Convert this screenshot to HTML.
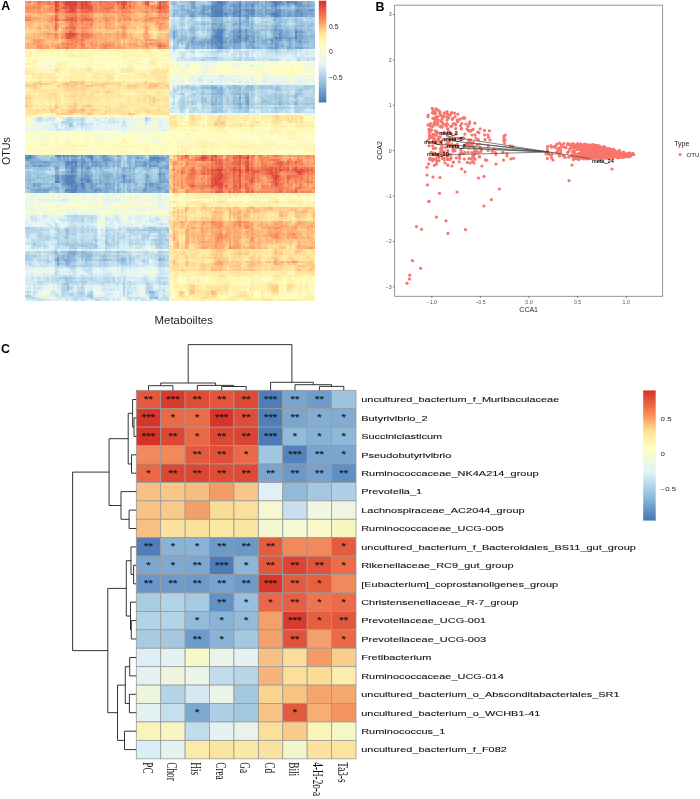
<!DOCTYPE html>
<html><head><meta charset="utf-8"><style>
html,body{margin:0;padding:0;background:#fff;width:700px;height:799px;overflow:hidden}
#wrap{position:relative;width:700px;height:799px}
#hm{position:absolute;filter:blur(0.55px);left:25px;top:1px;width:290px;height:300px;
background:linear-gradient(to bottom,#f07957 0px 12px,#fc9d6a 12px 21px,#fdaf77 21px 32px,#fc9867 32px 48px,#fff6b5 48px 69px,#feeeaa 69px 81px,#fed38f 81px 89px,#fee39b 89px 114px,#ffffc4 114px 117px,#e3f4f7 117px 130px,#ffffc4 130px 155px,#8ab5d6 155px 193px,#eff9e1 193px 214px,#d8eef5 214px 227px,#bedcec 227px 249px,#e5f5f3 249px 251px,#b1d4e6 251px 267px,#d8eef5 267px 300px) 0 0/144px 100% no-repeat,linear-gradient(to bottom,#7ea9cf 0px 17px,#a4cbe2 17px 21px,#99c3de 21px 34px,#91bbd9 34px 48px,#d8eef5 48px 61px,#fbfecb 61px 74px,#ebf7ea 74px 85px,#b5d7e8 85px 112px,#eef9e3 112px 115px,#feeda8 115px 127px,#fff9bd 127px 154px,#f37e59 154px 193px,#fff5b4 193px 206px,#fed38f 206px 221px,#fdb47a 221px 249px,#fedc95 249px 271px,#feeeaa 271px 300px) 144px 0/146px 100% no-repeat}
svg{position:absolute;left:0;top:0}
text{font-family:"Liberation Sans",Arial,sans-serif;fill:#111}
.lbl{font-size:12.4px;font-weight:bold;fill:#000}
.cba{font-size:6.8px;fill:#222}
.ax1{font-size:11.4px;fill:#1a1a1a}
.ax1b{font-size:10.7px;fill:#1a1a1a}
.ax2{font-size:7px;fill:#222}
.tk{font-size:5.3px;fill:#555}
.leg{font-size:6.2px;fill:#222}
.ml{font-size:5.6px;fill:#000;stroke:#000;stroke-width:0.12px}
.star text,.star{font-size:8.2px;fill:#151515;stroke:#151515;stroke-width:0.15px}
.rl{font-size:8px;fill:#111;stroke:#111;stroke-width:0.1px}
.cl{font-family:"Liberation Serif","Times New Roman",serif;font-size:9.2px;fill:#111}
.cbc{font-size:6px;fill:#222}
</style></head><body><div id="wrap">
<canvas id="hm" width="290" height="300"></canvas>
<svg width="700" height="799" viewBox="0 0 700 799">
<text x="1.2" y="10.4" class="lbl">A</text>
<defs><linearGradient id="cb" x1="0" y1="1" x2="0" y2="0"><stop offset="0" stop-color="#4575B4"/><stop offset="0.19" stop-color="#91BFDB"/><stop offset="0.37" stop-color="#E0F3F8"/><stop offset="0.56" stop-color="#FFFFBF"/><stop offset="0.69" stop-color="#FEE090"/><stop offset="0.81" stop-color="#FC8D59"/><stop offset="1" stop-color="#D73027"/></linearGradient></defs>
<rect x="318.8" y="0.7" width="7.5" height="101.8" fill="url(#cb)"/>
<text x="329" y="28.5" class="cba">0.5</text>
<text x="329" y="54.0" class="cba">0</text>
<text x="329" y="80.1" class="cba">−0.5</text>
<text transform="translate(10.2,165) rotate(-90)" class="ax1b">OTUs</text>
<text x="154.6" y="324.2" class="ax1">Metaboiltes</text>
<text x="375.4" y="11.0" class="lbl">B</text>
<rect x="394.6" y="5.2" width="268.0" height="291.1" fill="none" stroke="#8a8a8a" stroke-width="0.9"/>
<line x1="392.8" y1="14.5" x2="394.6" y2="14.5" stroke="#333" stroke-width="0.6"/>
<text x="391.6" y="16.4" class="tk" text-anchor="end">3</text>
<line x1="392.8" y1="59.9" x2="394.6" y2="59.9" stroke="#333" stroke-width="0.6"/>
<text x="391.6" y="61.8" class="tk" text-anchor="end">2</text>
<line x1="392.8" y1="105.2" x2="394.6" y2="105.2" stroke="#333" stroke-width="0.6"/>
<text x="391.6" y="107.2" class="tk" text-anchor="end">1</text>
<line x1="392.8" y1="150.7" x2="394.6" y2="150.7" stroke="#333" stroke-width="0.6"/>
<text x="391.6" y="152.6" class="tk" text-anchor="end">0</text>
<line x1="392.8" y1="196.1" x2="394.6" y2="196.1" stroke="#333" stroke-width="0.6"/>
<text x="391.6" y="198.0" class="tk" text-anchor="end">−1</text>
<line x1="392.8" y1="241.4" x2="394.6" y2="241.4" stroke="#333" stroke-width="0.6"/>
<text x="391.6" y="243.3" class="tk" text-anchor="end">−2</text>
<line x1="392.8" y1="286.9" x2="394.6" y2="286.9" stroke="#333" stroke-width="0.6"/>
<text x="391.6" y="288.8" class="tk" text-anchor="end">−3</text>
<line x1="431.8" y1="296.3" x2="431.8" y2="298.1" stroke="#333" stroke-width="0.6"/>
<text x="431.8" y="303.5" class="tk" text-anchor="middle">−1.0</text>
<line x1="480.4" y1="296.3" x2="480.4" y2="298.1" stroke="#333" stroke-width="0.6"/>
<text x="480.4" y="303.5" class="tk" text-anchor="middle">−0.5</text>
<line x1="529.0" y1="296.3" x2="529.0" y2="298.1" stroke="#333" stroke-width="0.6"/>
<text x="529.0" y="303.5" class="tk" text-anchor="middle">0.0</text>
<line x1="577.6" y1="296.3" x2="577.6" y2="298.1" stroke="#333" stroke-width="0.6"/>
<text x="577.6" y="303.5" class="tk" text-anchor="middle">0.5</text>
<line x1="626.2" y1="296.3" x2="626.2" y2="298.1" stroke="#333" stroke-width="0.6"/>
<text x="626.2" y="303.5" class="tk" text-anchor="middle">1.0</text>
<text x="528.7" y="312.2" class="ax2" text-anchor="middle">CCA1</text>
<text transform="translate(382,150.5) rotate(-90)" class="ax2" text-anchor="middle">CCA2</text>
<text x="674.2" y="146.4" class="leg" style="font-size:7px">Type</text>
<circle cx="680" cy="154.4" r="1.5" fill="#F8766D"/>
<text x="686.5" y="156.6" class="leg">OTU</text>
<g fill="#F8766D"><circle cx="428.9" cy="201.5" r="1.6"/><circle cx="436.4" cy="217.1" r="1.6"/><circle cx="446.0" cy="220.8" r="1.6"/><circle cx="416.5" cy="226.6" r="1.6"/><circle cx="421.5" cy="229.3" r="1.6"/><circle cx="447.9" cy="233.4" r="1.6"/><circle cx="465.5" cy="229.7" r="1.6"/><circle cx="412.4" cy="260.7" r="1.6"/><circle cx="420.6" cy="268.3" r="1.6"/><circle cx="409.8" cy="275.2" r="1.6"/><circle cx="409.4" cy="278.9" r="1.6"/><circle cx="407.0" cy="283.2" r="1.6"/><circle cx="427.0" cy="167.3" r="1.6"/><circle cx="427.0" cy="175.0" r="1.6"/><circle cx="433.0" cy="177.0" r="1.6"/><circle cx="440.0" cy="177.5" r="1.6"/><circle cx="427.4" cy="184.9" r="1.6"/><circle cx="439.5" cy="193.3" r="1.6"/><circle cx="457.0" cy="192.0" r="1.6"/><circle cx="429.0" cy="201.3" r="1.6"/><circle cx="478.4" cy="178.0" r="1.6"/><circle cx="484.0" cy="176.4" r="1.6"/><circle cx="499.4" cy="189.0" r="1.6"/><circle cx="491.4" cy="199.7" r="1.6"/><circle cx="483.9" cy="206.0" r="1.6"/><circle cx="461.7" cy="168.9" r="1.6"/><circle cx="465.0" cy="171.8" r="1.6"/><circle cx="474.0" cy="163.0" r="1.6"/><circle cx="482.0" cy="166.0" r="1.6"/><circle cx="496.0" cy="164.0" r="1.6"/><circle cx="507.0" cy="156.0" r="1.6"/><circle cx="504.0" cy="136.0" r="1.6"/><circle cx="505.0" cy="140.0" r="1.6"/><circle cx="546.0" cy="154.0" r="1.6"/><circle cx="553.0" cy="160.0" r="1.6"/><circle cx="556.0" cy="153.0" r="1.6"/><circle cx="572.0" cy="165.0" r="1.6"/><circle cx="612.0" cy="169.0" r="1.6"/><circle cx="600.0" cy="160.0" r="1.6"/><circle cx="569.0" cy="180.6" r="1.6"/><circle cx="437.0" cy="161.0" r="1.6"/><circle cx="445.0" cy="163.0" r="1.6"/><circle cx="452.0" cy="166.0" r="1.6"/><circle cx="430.0" cy="158.0" r="1.6"/><circle cx="434.0" cy="155.0" r="1.6"/><circle cx="438.7" cy="110.5" r="1.6"/><circle cx="512.6" cy="146.3" r="1.6"/><circle cx="455.9" cy="133.9" r="1.6"/><circle cx="489.4" cy="130.8" r="1.6"/><circle cx="442.3" cy="158.3" r="1.6"/><circle cx="447.0" cy="116.9" r="1.6"/><circle cx="431.9" cy="158.8" r="1.6"/><circle cx="452.8" cy="118.6" r="1.6"/><circle cx="442.2" cy="147.6" r="1.6"/><circle cx="495.8" cy="154.4" r="1.6"/><circle cx="462.7" cy="153.2" r="1.6"/><circle cx="495.4" cy="152.7" r="1.6"/><circle cx="470.0" cy="142.3" r="1.6"/><circle cx="454.5" cy="113.1" r="1.6"/><circle cx="450.9" cy="126.3" r="1.6"/><circle cx="440.5" cy="142.7" r="1.6"/><circle cx="455.1" cy="150.6" r="1.6"/><circle cx="432.9" cy="141.7" r="1.6"/><circle cx="429.7" cy="129.7" r="1.6"/><circle cx="447.8" cy="165.2" r="1.6"/><circle cx="445.6" cy="125.1" r="1.6"/><circle cx="464.9" cy="134.1" r="1.6"/><circle cx="452.8" cy="139.5" r="1.6"/><circle cx="435.7" cy="121.6" r="1.6"/><circle cx="435.5" cy="111.7" r="1.6"/><circle cx="448.7" cy="114.7" r="1.6"/><circle cx="439.8" cy="113.3" r="1.6"/><circle cx="443.8" cy="158.2" r="1.6"/><circle cx="464.1" cy="117.5" r="1.6"/><circle cx="447.0" cy="157.1" r="1.6"/><circle cx="435.2" cy="118.9" r="1.6"/><circle cx="429.4" cy="135.7" r="1.6"/><circle cx="469.3" cy="130.6" r="1.6"/><circle cx="443.2" cy="139.4" r="1.6"/><circle cx="447.9" cy="155.6" r="1.6"/><circle cx="470.1" cy="131.3" r="1.6"/><circle cx="446.8" cy="123.7" r="1.6"/><circle cx="429.5" cy="135.7" r="1.6"/><circle cx="452.2" cy="119.3" r="1.6"/><circle cx="432.4" cy="160.8" r="1.6"/><circle cx="467.0" cy="129.0" r="1.6"/><circle cx="468.5" cy="130.6" r="1.6"/><circle cx="429.1" cy="145.8" r="1.6"/><circle cx="437.7" cy="116.7" r="1.6"/><circle cx="438.3" cy="154.2" r="1.6"/><circle cx="480.8" cy="151.4" r="1.6"/><circle cx="471.5" cy="130.3" r="1.6"/><circle cx="433.8" cy="124.0" r="1.6"/><circle cx="488.1" cy="150.4" r="1.6"/><circle cx="510.2" cy="145.9" r="1.6"/><circle cx="436.7" cy="161.3" r="1.6"/><circle cx="478.9" cy="132.7" r="1.6"/><circle cx="446.3" cy="125.9" r="1.6"/><circle cx="446.3" cy="144.0" r="1.6"/><circle cx="440.5" cy="126.8" r="1.6"/><circle cx="457.8" cy="114.1" r="1.6"/><circle cx="461.0" cy="150.4" r="1.6"/><circle cx="440.2" cy="112.1" r="1.6"/><circle cx="436.5" cy="119.1" r="1.6"/><circle cx="477.6" cy="132.1" r="1.6"/><circle cx="437.0" cy="131.9" r="1.6"/><circle cx="430.3" cy="125.9" r="1.6"/><circle cx="432.3" cy="153.0" r="1.6"/><circle cx="444.1" cy="132.4" r="1.6"/><circle cx="469.8" cy="121.8" r="1.6"/><circle cx="428.3" cy="115.1" r="1.6"/><circle cx="448.3" cy="118.1" r="1.6"/><circle cx="449.9" cy="159.3" r="1.6"/><circle cx="447.6" cy="159.4" r="1.6"/><circle cx="465.5" cy="145.4" r="1.6"/><circle cx="472.6" cy="161.5" r="1.6"/><circle cx="453.4" cy="123.7" r="1.6"/><circle cx="474.3" cy="158.6" r="1.6"/><circle cx="435.8" cy="116.8" r="1.6"/><circle cx="513.6" cy="158.3" r="1.6"/><circle cx="433.1" cy="112.4" r="1.6"/><circle cx="486.7" cy="160.3" r="1.6"/><circle cx="481.4" cy="149.9" r="1.6"/><circle cx="440.2" cy="152.0" r="1.6"/><circle cx="490.0" cy="140.0" r="1.6"/><circle cx="461.2" cy="153.0" r="1.6"/><circle cx="450.5" cy="115.1" r="1.6"/><circle cx="455.0" cy="116.7" r="1.6"/><circle cx="470.5" cy="139.9" r="1.6"/><circle cx="435.6" cy="143.2" r="1.6"/><circle cx="448.7" cy="117.5" r="1.6"/><circle cx="432.7" cy="145.8" r="1.6"/><circle cx="444.3" cy="112.9" r="1.6"/><circle cx="442.2" cy="127.1" r="1.6"/><circle cx="448.0" cy="143.8" r="1.6"/><circle cx="442.5" cy="152.2" r="1.6"/><circle cx="488.5" cy="137.3" r="1.6"/><circle cx="447.3" cy="134.4" r="1.6"/><circle cx="475.2" cy="153.2" r="1.6"/><circle cx="435.4" cy="124.3" r="1.6"/><circle cx="454.8" cy="145.6" r="1.6"/><circle cx="457.8" cy="121.6" r="1.6"/><circle cx="480.1" cy="147.5" r="1.6"/><circle cx="442.4" cy="116.1" r="1.6"/><circle cx="448.5" cy="131.7" r="1.6"/><circle cx="510.9" cy="158.8" r="1.6"/><circle cx="504.5" cy="143.1" r="1.6"/><circle cx="505.3" cy="135.1" r="1.6"/><circle cx="461.8" cy="123.5" r="1.6"/><circle cx="427.9" cy="116.7" r="1.6"/><circle cx="440.9" cy="121.1" r="1.6"/><circle cx="484.5" cy="130.4" r="1.6"/><circle cx="434.4" cy="122.0" r="1.6"/><circle cx="429.0" cy="129.2" r="1.6"/><circle cx="502.9" cy="152.3" r="1.6"/><circle cx="438.1" cy="156.3" r="1.6"/><circle cx="475.0" cy="159.3" r="1.6"/><circle cx="452.0" cy="126.0" r="1.6"/><circle cx="433.8" cy="154.2" r="1.6"/><circle cx="450.1" cy="132.4" r="1.6"/><circle cx="473.7" cy="158.7" r="1.6"/><circle cx="463.3" cy="138.1" r="1.6"/><circle cx="447.6" cy="124.4" r="1.6"/><circle cx="433.9" cy="159.3" r="1.6"/><circle cx="479.1" cy="156.7" r="1.6"/><circle cx="448.3" cy="154.2" r="1.6"/><circle cx="488.2" cy="146.1" r="1.6"/><circle cx="503.9" cy="138.0" r="1.6"/><circle cx="479.6" cy="157.0" r="1.6"/><circle cx="463.9" cy="153.3" r="1.6"/><circle cx="470.8" cy="158.9" r="1.6"/><circle cx="428.6" cy="163.9" r="1.6"/><circle cx="447.0" cy="120.1" r="1.6"/><circle cx="447.5" cy="129.0" r="1.6"/><circle cx="434.0" cy="139.0" r="1.6"/><circle cx="459.2" cy="161.8" r="1.6"/><circle cx="471.8" cy="152.5" r="1.6"/><circle cx="436.4" cy="154.4" r="1.6"/><circle cx="449.8" cy="138.1" r="1.6"/><circle cx="467.3" cy="146.5" r="1.6"/><circle cx="445.2" cy="140.2" r="1.6"/><circle cx="436.0" cy="132.9" r="1.6"/><circle cx="463.7" cy="137.9" r="1.6"/><circle cx="451.7" cy="112.9" r="1.6"/><circle cx="446.9" cy="113.7" r="1.6"/><circle cx="435.6" cy="113.2" r="1.6"/><circle cx="447.8" cy="128.8" r="1.6"/><circle cx="469.3" cy="123.8" r="1.6"/><circle cx="435.5" cy="148.2" r="1.6"/><circle cx="455.4" cy="123.8" r="1.6"/><circle cx="473.5" cy="157.6" r="1.6"/><circle cx="430.1" cy="131.8" r="1.6"/><circle cx="433.1" cy="109.4" r="1.6"/><circle cx="455.1" cy="139.1" r="1.6"/><circle cx="442.1" cy="119.1" r="1.6"/><circle cx="478.2" cy="152.5" r="1.6"/><circle cx="436.4" cy="135.2" r="1.6"/><circle cx="478.3" cy="139.6" r="1.6"/><circle cx="471.7" cy="145.4" r="1.6"/><circle cx="438.5" cy="139.1" r="1.6"/><circle cx="434.3" cy="138.8" r="1.6"/><circle cx="468.8" cy="158.6" r="1.6"/><circle cx="449.6" cy="141.6" r="1.6"/><circle cx="437.8" cy="132.7" r="1.6"/><circle cx="473.7" cy="146.8" r="1.6"/><circle cx="427.4" cy="140.8" r="1.6"/><circle cx="457.3" cy="144.3" r="1.6"/><circle cx="442.1" cy="152.3" r="1.6"/><circle cx="440.3" cy="136.9" r="1.6"/><circle cx="457.2" cy="120.2" r="1.6"/><circle cx="503.5" cy="160.1" r="1.6"/><circle cx="448.0" cy="142.2" r="1.6"/><circle cx="436.4" cy="108.9" r="1.6"/><circle cx="468.9" cy="143.9" r="1.6"/><circle cx="442.2" cy="122.4" r="1.6"/><circle cx="434.4" cy="124.8" r="1.6"/><circle cx="440.5" cy="153.7" r="1.6"/><circle cx="432.4" cy="112.6" r="1.6"/><circle cx="435.2" cy="135.1" r="1.6"/><circle cx="474.1" cy="155.0" r="1.6"/><circle cx="448.1" cy="155.4" r="1.6"/><circle cx="464.3" cy="159.0" r="1.6"/><circle cx="470.2" cy="163.0" r="1.6"/><circle cx="479.2" cy="144.2" r="1.6"/><circle cx="441.4" cy="149.4" r="1.6"/><circle cx="439.1" cy="141.4" r="1.6"/><circle cx="442.4" cy="133.7" r="1.6"/><circle cx="476.3" cy="150.8" r="1.6"/><circle cx="492.3" cy="151.3" r="1.6"/><circle cx="438.5" cy="157.5" r="1.6"/><circle cx="433.4" cy="148.5" r="1.6"/><circle cx="468.6" cy="147.9" r="1.6"/><circle cx="485.4" cy="159.9" r="1.6"/><circle cx="458.3" cy="138.7" r="1.6"/><circle cx="430.5" cy="123.6" r="1.6"/><circle cx="450.6" cy="154.6" r="1.6"/><circle cx="440.4" cy="148.8" r="1.6"/><circle cx="468.1" cy="126.3" r="1.6"/><circle cx="450.0" cy="145.7" r="1.6"/><circle cx="487.9" cy="135.1" r="1.6"/><circle cx="451.2" cy="157.8" r="1.6"/><circle cx="437.9" cy="156.7" r="1.6"/><circle cx="431.7" cy="129.9" r="1.6"/><circle cx="436.0" cy="158.9" r="1.6"/><circle cx="446.4" cy="124.5" r="1.6"/><circle cx="459.7" cy="158.4" r="1.6"/><circle cx="455.4" cy="145.4" r="1.6"/><circle cx="444.0" cy="116.5" r="1.6"/><circle cx="455.6" cy="124.8" r="1.6"/><circle cx="451.4" cy="145.4" r="1.6"/><circle cx="443.9" cy="151.6" r="1.6"/><circle cx="442.1" cy="133.7" r="1.6"/><circle cx="427.9" cy="124.8" r="1.6"/><circle cx="459.4" cy="155.9" r="1.6"/><circle cx="494.2" cy="149.1" r="1.6"/><circle cx="429.4" cy="132.4" r="1.6"/><circle cx="473.5" cy="142.6" r="1.6"/><circle cx="447.0" cy="111.7" r="1.6"/><circle cx="432.9" cy="134.3" r="1.6"/><circle cx="465.8" cy="144.5" r="1.6"/><circle cx="465.9" cy="124.0" r="1.6"/><circle cx="439.0" cy="160.6" r="1.6"/><circle cx="475.9" cy="138.0" r="1.6"/><circle cx="474.2" cy="148.1" r="1.6"/><circle cx="464.6" cy="152.4" r="1.6"/><circle cx="456.3" cy="157.9" r="1.6"/><circle cx="461.8" cy="138.0" r="1.6"/><circle cx="431.1" cy="137.5" r="1.6"/><circle cx="484.5" cy="134.8" r="1.6"/><circle cx="476.9" cy="144.7" r="1.6"/><circle cx="459.6" cy="139.0" r="1.6"/><circle cx="461.6" cy="128.4" r="1.6"/><circle cx="449.9" cy="159.3" r="1.6"/><circle cx="429.3" cy="138.6" r="1.6"/><circle cx="503.9" cy="140.3" r="1.6"/><circle cx="451.8" cy="134.1" r="1.6"/><circle cx="432.7" cy="136.5" r="1.6"/><circle cx="452.0" cy="144.4" r="1.6"/><circle cx="431.1" cy="152.3" r="1.6"/><circle cx="453.3" cy="162.2" r="1.6"/><circle cx="430.4" cy="130.5" r="1.6"/><circle cx="464.6" cy="118.2" r="1.6"/><circle cx="444.4" cy="160.0" r="1.6"/><circle cx="461.5" cy="128.9" r="1.6"/><circle cx="434.6" cy="153.1" r="1.6"/><circle cx="432.2" cy="108.3" r="1.6"/><circle cx="433.2" cy="112.8" r="1.6"/><circle cx="471.3" cy="143.3" r="1.6"/><circle cx="475.0" cy="134.9" r="1.6"/><circle cx="473.1" cy="129.4" r="1.6"/><circle cx="472.1" cy="135.0" r="1.6"/><circle cx="441.0" cy="126.1" r="1.6"/><circle cx="467.3" cy="162.4" r="1.6"/><circle cx="438.1" cy="138.6" r="1.6"/><circle cx="468.9" cy="130.6" r="1.6"/><circle cx="438.0" cy="122.8" r="1.6"/><circle cx="442.8" cy="117.5" r="1.6"/><circle cx="434.5" cy="165.3" r="1.6"/><circle cx="460.5" cy="125.7" r="1.6"/><circle cx="429.7" cy="159.5" r="1.6"/><circle cx="430.4" cy="136.2" r="1.6"/><circle cx="468.8" cy="140.2" r="1.6"/><circle cx="451.6" cy="139.2" r="1.6"/><circle cx="453.3" cy="151.3" r="1.6"/><circle cx="467.4" cy="143.1" r="1.6"/><circle cx="474.8" cy="123.2" r="1.6"/><circle cx="448.9" cy="132.0" r="1.6"/><circle cx="435.4" cy="130.9" r="1.6"/><circle cx="438.0" cy="124.9" r="1.6"/><circle cx="443.0" cy="153.4" r="1.6"/><circle cx="468.5" cy="144.2" r="1.6"/><circle cx="440.6" cy="115.4" r="1.6"/><circle cx="462.7" cy="118.2" r="1.6"/><circle cx="448.5" cy="146.5" r="1.6"/><circle cx="443.9" cy="115.6" r="1.6"/><circle cx="469.5" cy="146.7" r="1.6"/><circle cx="480.1" cy="128.9" r="1.6"/><circle cx="432.4" cy="126.7" r="1.6"/><circle cx="455.7" cy="128.7" r="1.6"/><circle cx="436.5" cy="164.0" r="1.6"/><circle cx="452.8" cy="149.3" r="1.6"/><circle cx="485.1" cy="139.6" r="1.6"/><circle cx="438.3" cy="120.0" r="1.6"/><circle cx="474.4" cy="151.7" r="1.6"/><circle cx="448.7" cy="138.7" r="1.6"/><circle cx="506.9" cy="153.7" r="1.6"/><circle cx="435.2" cy="121.7" r="1.6"/><circle cx="434.2" cy="138.5" r="1.6"/><circle cx="434.7" cy="119.0" r="1.6"/><circle cx="439.0" cy="137.2" r="1.6"/><circle cx="472.9" cy="156.2" r="1.6"/><circle cx="451.6" cy="112.5" r="1.6"/><circle cx="460.2" cy="153.6" r="1.6"/><circle cx="443.4" cy="124.2" r="1.6"/><circle cx="445.5" cy="147.3" r="1.6"/><circle cx="436.5" cy="141.0" r="1.6"/><circle cx="447.8" cy="150.7" r="1.6"/><circle cx="432.8" cy="118.3" r="1.6"/><circle cx="441.9" cy="155.4" r="1.6"/><circle cx="441.8" cy="145.8" r="1.6"/><circle cx="446.5" cy="153.7" r="1.6"/><circle cx="434.0" cy="113.6" r="1.6"/><circle cx="468.0" cy="152.3" r="1.6"/><circle cx="459.7" cy="119.2" r="1.6"/><circle cx="472.3" cy="145.0" r="1.6"/><circle cx="631.5" cy="154.4" r="1.6"/><circle cx="583.1" cy="157.7" r="1.6"/><circle cx="605.5" cy="147.9" r="1.6"/><circle cx="607.4" cy="152.4" r="1.6"/><circle cx="611.1" cy="153.1" r="1.6"/><circle cx="612.4" cy="157.9" r="1.6"/><circle cx="605.1" cy="155.6" r="1.6"/><circle cx="602.2" cy="153.6" r="1.6"/><circle cx="604.7" cy="153.6" r="1.6"/><circle cx="587.0" cy="155.7" r="1.6"/><circle cx="577.3" cy="149.5" r="1.6"/><circle cx="584.6" cy="153.7" r="1.6"/><circle cx="587.4" cy="158.9" r="1.6"/><circle cx="615.0" cy="152.7" r="1.6"/><circle cx="590.6" cy="152.6" r="1.6"/><circle cx="627.3" cy="155.9" r="1.6"/><circle cx="593.8" cy="147.9" r="1.6"/><circle cx="617.7" cy="157.4" r="1.6"/><circle cx="572.8" cy="152.3" r="1.6"/><circle cx="607.0" cy="149.9" r="1.6"/><circle cx="605.9" cy="158.3" r="1.6"/><circle cx="588.9" cy="157.8" r="1.6"/><circle cx="572.9" cy="146.5" r="1.6"/><circle cx="582.2" cy="156.1" r="1.6"/><circle cx="603.6" cy="156.8" r="1.6"/><circle cx="598.0" cy="146.8" r="1.6"/><circle cx="549.9" cy="154.3" r="1.6"/><circle cx="587.4" cy="147.9" r="1.6"/><circle cx="576.0" cy="146.8" r="1.6"/><circle cx="629.7" cy="153.2" r="1.6"/><circle cx="588.4" cy="155.9" r="1.6"/><circle cx="593.9" cy="146.4" r="1.6"/><circle cx="589.8" cy="151.8" r="1.6"/><circle cx="553.8" cy="146.9" r="1.6"/><circle cx="594.1" cy="147.1" r="1.6"/><circle cx="576.4" cy="155.3" r="1.6"/><circle cx="564.0" cy="156.1" r="1.6"/><circle cx="604.3" cy="153.0" r="1.6"/><circle cx="628.6" cy="154.9" r="1.6"/><circle cx="598.7" cy="150.0" r="1.6"/><circle cx="588.9" cy="153.7" r="1.6"/><circle cx="601.3" cy="151.7" r="1.6"/><circle cx="627.6" cy="155.2" r="1.6"/><circle cx="610.5" cy="149.8" r="1.6"/><circle cx="607.4" cy="153.7" r="1.6"/><circle cx="610.8" cy="150.7" r="1.6"/><circle cx="591.1" cy="157.7" r="1.6"/><circle cx="602.6" cy="158.4" r="1.6"/><circle cx="621.1" cy="153.3" r="1.6"/><circle cx="594.2" cy="156.2" r="1.6"/><circle cx="632.7" cy="153.9" r="1.6"/><circle cx="618.5" cy="152.2" r="1.6"/><circle cx="581.7" cy="146.4" r="1.6"/><circle cx="547.6" cy="146.4" r="1.6"/><circle cx="610.0" cy="157.1" r="1.6"/><circle cx="611.2" cy="151.8" r="1.6"/><circle cx="601.8" cy="156.9" r="1.6"/><circle cx="591.7" cy="158.4" r="1.6"/><circle cx="571.5" cy="144.4" r="1.6"/><circle cx="609.0" cy="154.4" r="1.6"/><circle cx="609.2" cy="156.4" r="1.6"/><circle cx="576.6" cy="157.3" r="1.6"/><circle cx="597.7" cy="153.5" r="1.6"/><circle cx="582.2" cy="152.9" r="1.6"/><circle cx="550.9" cy="145.6" r="1.6"/><circle cx="627.7" cy="156.8" r="1.6"/><circle cx="563.8" cy="143.5" r="1.6"/><circle cx="609.1" cy="151.3" r="1.6"/><circle cx="590.5" cy="154.9" r="1.6"/><circle cx="619.4" cy="154.5" r="1.6"/><circle cx="603.4" cy="150.6" r="1.6"/><circle cx="602.9" cy="158.3" r="1.6"/><circle cx="595.5" cy="154.4" r="1.6"/><circle cx="568.9" cy="151.1" r="1.6"/><circle cx="569.8" cy="148.8" r="1.6"/><circle cx="560.6" cy="152.3" r="1.6"/><circle cx="592.3" cy="152.4" r="1.6"/><circle cx="595.0" cy="156.9" r="1.6"/><circle cx="603.1" cy="152.3" r="1.6"/><circle cx="584.6" cy="150.0" r="1.6"/><circle cx="618.3" cy="157.8" r="1.6"/><circle cx="610.4" cy="156.7" r="1.6"/><circle cx="625.0" cy="153.4" r="1.6"/><circle cx="590.1" cy="154.2" r="1.6"/><circle cx="619.2" cy="156.6" r="1.6"/><circle cx="611.7" cy="156.0" r="1.6"/><circle cx="595.2" cy="155.5" r="1.6"/><circle cx="583.4" cy="153.5" r="1.6"/><circle cx="610.3" cy="151.8" r="1.6"/><circle cx="590.6" cy="151.1" r="1.6"/><circle cx="615.4" cy="155.9" r="1.6"/><circle cx="596.6" cy="148.5" r="1.6"/><circle cx="602.5" cy="148.9" r="1.6"/><circle cx="596.7" cy="150.6" r="1.6"/><circle cx="624.3" cy="156.0" r="1.6"/><circle cx="616.7" cy="155.8" r="1.6"/><circle cx="620.0" cy="156.1" r="1.6"/><circle cx="609.1" cy="154.6" r="1.6"/><circle cx="615.9" cy="153.2" r="1.6"/><circle cx="583.1" cy="149.3" r="1.6"/><circle cx="586.9" cy="154.3" r="1.6"/><circle cx="592.1" cy="151.6" r="1.6"/><circle cx="594.9" cy="145.4" r="1.6"/><circle cx="598.6" cy="154.6" r="1.6"/><circle cx="582.4" cy="146.2" r="1.6"/><circle cx="573.6" cy="145.1" r="1.6"/><circle cx="598.8" cy="148.2" r="1.6"/><circle cx="596.3" cy="150.8" r="1.6"/><circle cx="591.9" cy="154.5" r="1.6"/><circle cx="613.1" cy="156.2" r="1.6"/><circle cx="568.8" cy="157.2" r="1.6"/><circle cx="616.6" cy="153.9" r="1.6"/><circle cx="598.7" cy="153.7" r="1.6"/><circle cx="607.0" cy="155.2" r="1.6"/><circle cx="619.5" cy="150.7" r="1.6"/><circle cx="576.9" cy="157.5" r="1.6"/><circle cx="599.2" cy="157.5" r="1.6"/><circle cx="579.7" cy="158.5" r="1.6"/><circle cx="592.9" cy="145.1" r="1.6"/><circle cx="585.2" cy="156.0" r="1.6"/><circle cx="599.3" cy="152.0" r="1.6"/><circle cx="610.9" cy="151.0" r="1.6"/><circle cx="613.8" cy="152.4" r="1.6"/><circle cx="547.4" cy="158.4" r="1.6"/><circle cx="555.7" cy="146.0" r="1.6"/><circle cx="575.0" cy="147.6" r="1.6"/><circle cx="584.7" cy="154.0" r="1.6"/><circle cx="559.4" cy="155.9" r="1.6"/><circle cx="583.1" cy="146.3" r="1.6"/><circle cx="590.4" cy="158.4" r="1.6"/><circle cx="551.5" cy="158.0" r="1.6"/><circle cx="606.2" cy="158.3" r="1.6"/><circle cx="613.3" cy="157.9" r="1.6"/><circle cx="582.6" cy="158.6" r="1.6"/><circle cx="590.9" cy="151.2" r="1.6"/><circle cx="630.3" cy="156.2" r="1.6"/><circle cx="627.7" cy="153.7" r="1.6"/><circle cx="588.1" cy="145.8" r="1.6"/><circle cx="592.6" cy="144.8" r="1.6"/><circle cx="618.4" cy="155.6" r="1.6"/><circle cx="607.1" cy="152.6" r="1.6"/><circle cx="614.0" cy="150.1" r="1.6"/><circle cx="614.7" cy="156.0" r="1.6"/><circle cx="598.2" cy="145.9" r="1.6"/><circle cx="605.3" cy="148.2" r="1.6"/><circle cx="574.3" cy="152.1" r="1.6"/><circle cx="584.0" cy="158.0" r="1.6"/><circle cx="613.0" cy="157.3" r="1.6"/><circle cx="562.8" cy="155.6" r="1.6"/><circle cx="610.8" cy="149.6" r="1.6"/><circle cx="613.5" cy="154.7" r="1.6"/><circle cx="602.0" cy="149.9" r="1.6"/><circle cx="583.1" cy="154.2" r="1.6"/><circle cx="590.8" cy="149.4" r="1.6"/><circle cx="627.5" cy="155.5" r="1.6"/><circle cx="591.2" cy="158.4" r="1.6"/><circle cx="599.0" cy="149.1" r="1.6"/><circle cx="596.6" cy="149.3" r="1.6"/><circle cx="607.3" cy="151.9" r="1.6"/><circle cx="612.7" cy="151.2" r="1.6"/><circle cx="599.4" cy="146.4" r="1.6"/><circle cx="614.9" cy="153.6" r="1.6"/><circle cx="615.2" cy="152.3" r="1.6"/><circle cx="575.0" cy="158.7" r="1.6"/><circle cx="595.0" cy="150.1" r="1.6"/><circle cx="608.0" cy="152.5" r="1.6"/><circle cx="603.7" cy="153.3" r="1.6"/><circle cx="611.1" cy="150.5" r="1.6"/><circle cx="600.9" cy="156.7" r="1.6"/><circle cx="560.8" cy="147.0" r="1.6"/><circle cx="598.4" cy="150.5" r="1.6"/><circle cx="602.9" cy="157.5" r="1.6"/><circle cx="582.4" cy="150.5" r="1.6"/><circle cx="623.1" cy="155.0" r="1.6"/><circle cx="601.2" cy="148.8" r="1.6"/><circle cx="594.8" cy="154.0" r="1.6"/><circle cx="618.8" cy="155.1" r="1.6"/><circle cx="617.3" cy="155.4" r="1.6"/><circle cx="577.6" cy="143.6" r="1.6"/><circle cx="559.0" cy="154.2" r="1.6"/><circle cx="548.1" cy="154.1" r="1.6"/><circle cx="587.6" cy="145.2" r="1.6"/><circle cx="615.4" cy="156.0" r="1.6"/><circle cx="586.0" cy="146.8" r="1.6"/><circle cx="609.2" cy="148.5" r="1.6"/><circle cx="596.4" cy="148.5" r="1.6"/><circle cx="599.4" cy="149.5" r="1.6"/><circle cx="604.3" cy="151.8" r="1.6"/><circle cx="589.8" cy="157.9" r="1.6"/><circle cx="572.5" cy="143.9" r="1.6"/><circle cx="587.2" cy="154.8" r="1.6"/><circle cx="619.4" cy="151.8" r="1.6"/><circle cx="578.8" cy="153.4" r="1.6"/><circle cx="608.0" cy="151.8" r="1.6"/><circle cx="613.0" cy="151.9" r="1.6"/><circle cx="584.4" cy="153.7" r="1.6"/><circle cx="574.6" cy="151.2" r="1.6"/><circle cx="590.6" cy="145.8" r="1.6"/><circle cx="610.9" cy="155.3" r="1.6"/><circle cx="614.5" cy="153.4" r="1.6"/><circle cx="593.5" cy="158.3" r="1.6"/><circle cx="586.9" cy="152.9" r="1.6"/><circle cx="589.3" cy="157.7" r="1.6"/><circle cx="600.2" cy="149.8" r="1.6"/><circle cx="604.1" cy="148.3" r="1.6"/><circle cx="594.7" cy="153.0" r="1.6"/><circle cx="560.7" cy="149.9" r="1.6"/><circle cx="577.1" cy="157.0" r="1.6"/><circle cx="603.8" cy="152.1" r="1.6"/><circle cx="557.2" cy="151.7" r="1.6"/><circle cx="586.8" cy="151.8" r="1.6"/><circle cx="601.9" cy="152.6" r="1.6"/><circle cx="623.4" cy="152.1" r="1.6"/><circle cx="568.3" cy="151.8" r="1.6"/><circle cx="625.3" cy="156.1" r="1.6"/><circle cx="611.2" cy="149.6" r="1.6"/><circle cx="587.1" cy="145.5" r="1.6"/><circle cx="594.9" cy="152.7" r="1.6"/><circle cx="632.6" cy="153.9" r="1.6"/><circle cx="591.6" cy="152.1" r="1.6"/><circle cx="567.7" cy="152.8" r="1.6"/><circle cx="567.9" cy="143.6" r="1.6"/><circle cx="603.8" cy="149.1" r="1.6"/><circle cx="607.6" cy="154.0" r="1.6"/><circle cx="558.2" cy="149.8" r="1.6"/><circle cx="578.7" cy="159.6" r="1.6"/><circle cx="609.7" cy="153.6" r="1.6"/><circle cx="591.8" cy="145.4" r="1.6"/><circle cx="597.5" cy="154.7" r="1.6"/><circle cx="607.1" cy="154.7" r="1.6"/><circle cx="598.5" cy="157.1" r="1.6"/><circle cx="585.5" cy="155.4" r="1.6"/><circle cx="624.0" cy="155.3" r="1.6"/><circle cx="618.5" cy="153.0" r="1.6"/><circle cx="604.2" cy="156.0" r="1.6"/><circle cx="608.7" cy="156.1" r="1.6"/><circle cx="597.4" cy="157.5" r="1.6"/><circle cx="585.3" cy="147.5" r="1.6"/><circle cx="584.1" cy="158.8" r="1.6"/><circle cx="586.8" cy="154.5" r="1.6"/><circle cx="577.1" cy="148.8" r="1.6"/><circle cx="590.0" cy="144.9" r="1.6"/><circle cx="597.5" cy="151.4" r="1.6"/><circle cx="598.3" cy="152.5" r="1.6"/><circle cx="627.8" cy="156.6" r="1.6"/><circle cx="613.2" cy="153.6" r="1.6"/><circle cx="595.0" cy="151.7" r="1.6"/><circle cx="572.3" cy="146.6" r="1.6"/><circle cx="584.0" cy="148.4" r="1.6"/><circle cx="618.7" cy="152.4" r="1.6"/><circle cx="574.0" cy="144.0" r="1.6"/><circle cx="559.5" cy="148.6" r="1.6"/><circle cx="612.0" cy="155.9" r="1.6"/><circle cx="632.8" cy="154.3" r="1.6"/><circle cx="612.7" cy="152.2" r="1.6"/><circle cx="597.3" cy="147.1" r="1.6"/><circle cx="624.3" cy="157.2" r="1.6"/><circle cx="625.9" cy="155.1" r="1.6"/><circle cx="597.9" cy="154.1" r="1.6"/><circle cx="615.2" cy="151.2" r="1.6"/><circle cx="596.3" cy="153.1" r="1.6"/><circle cx="628.8" cy="153.0" r="1.6"/><circle cx="588.2" cy="150.6" r="1.6"/><circle cx="585.6" cy="144.6" r="1.6"/><circle cx="612.7" cy="152.2" r="1.6"/><circle cx="600.9" cy="153.2" r="1.6"/><circle cx="619.1" cy="152.6" r="1.6"/><circle cx="583.1" cy="150.9" r="1.6"/><circle cx="600.5" cy="157.5" r="1.6"/><circle cx="591.7" cy="148.5" r="1.6"/><circle cx="576.5" cy="145.1" r="1.6"/><circle cx="617.3" cy="155.1" r="1.6"/><circle cx="585.8" cy="144.6" r="1.6"/><circle cx="617.4" cy="157.6" r="1.6"/><circle cx="583.0" cy="148.7" r="1.6"/><circle cx="613.4" cy="150.3" r="1.6"/><circle cx="608.5" cy="149.1" r="1.6"/><circle cx="584.6" cy="157.9" r="1.6"/><circle cx="610.8" cy="154.7" r="1.6"/><circle cx="572.9" cy="151.2" r="1.6"/><circle cx="606.2" cy="149.7" r="1.6"/><circle cx="584.5" cy="148.8" r="1.6"/><circle cx="594.3" cy="149.0" r="1.6"/><circle cx="599.9" cy="146.4" r="1.6"/><circle cx="583.6" cy="154.4" r="1.6"/><circle cx="588.7" cy="158.4" r="1.6"/><circle cx="587.6" cy="156.2" r="1.6"/><circle cx="602.5" cy="148.7" r="1.6"/><circle cx="616.5" cy="156.6" r="1.6"/><circle cx="596.3" cy="158.1" r="1.6"/><circle cx="576.6" cy="145.8" r="1.6"/><circle cx="589.0" cy="155.3" r="1.6"/><circle cx="592.3" cy="148.6" r="1.6"/><circle cx="600.5" cy="157.4" r="1.6"/><circle cx="584.0" cy="148.9" r="1.6"/><circle cx="598.5" cy="151.2" r="1.6"/><circle cx="598.9" cy="147.3" r="1.6"/><circle cx="587.1" cy="149.2" r="1.6"/><circle cx="582.8" cy="151.0" r="1.6"/><circle cx="576.7" cy="158.4" r="1.6"/><circle cx="582.9" cy="154.1" r="1.6"/><circle cx="586.0" cy="146.4" r="1.6"/><circle cx="592.5" cy="157.1" r="1.6"/><circle cx="593.5" cy="157.8" r="1.6"/><circle cx="562.8" cy="146.6" r="1.6"/><circle cx="583.1" cy="145.1" r="1.6"/><circle cx="596.8" cy="154.3" r="1.6"/><circle cx="588.2" cy="146.0" r="1.6"/><circle cx="599.2" cy="151.5" r="1.6"/><circle cx="571.4" cy="155.0" r="1.6"/><circle cx="579.0" cy="156.0" r="1.6"/><circle cx="587.7" cy="148.3" r="1.6"/><circle cx="596.3" cy="155.4" r="1.6"/><circle cx="551.8" cy="153.9" r="1.6"/><circle cx="584.1" cy="146.2" r="1.6"/><circle cx="605.2" cy="148.0" r="1.6"/><circle cx="575.9" cy="154.2" r="1.6"/><circle cx="595.5" cy="156.0" r="1.6"/><circle cx="593.9" cy="147.1" r="1.6"/><circle cx="571.4" cy="147.9" r="1.6"/><circle cx="631.2" cy="155.1" r="1.6"/><circle cx="601.8" cy="153.5" r="1.6"/><circle cx="602.0" cy="149.4" r="1.6"/><circle cx="574.3" cy="155.5" r="1.6"/><circle cx="581.1" cy="150.9" r="1.6"/><circle cx="603.3" cy="147.1" r="1.6"/><circle cx="597.4" cy="145.7" r="1.6"/><circle cx="609.2" cy="151.4" r="1.6"/><circle cx="585.7" cy="154.5" r="1.6"/><circle cx="580.7" cy="144.1" r="1.6"/><circle cx="614.3" cy="152.0" r="1.6"/><circle cx="630.7" cy="155.5" r="1.6"/><circle cx="578.1" cy="159.0" r="1.6"/><circle cx="610.4" cy="157.6" r="1.6"/><circle cx="582.7" cy="151.1" r="1.6"/><circle cx="613.6" cy="150.5" r="1.6"/><circle cx="593.1" cy="153.3" r="1.6"/><circle cx="596.9" cy="155.0" r="1.6"/><circle cx="604.8" cy="150.3" r="1.6"/><circle cx="603.5" cy="152.8" r="1.6"/><circle cx="585.2" cy="157.3" r="1.6"/><circle cx="605.7" cy="155.7" r="1.6"/><circle cx="607.0" cy="148.6" r="1.6"/><circle cx="600.2" cy="149.7" r="1.6"/><circle cx="594.0" cy="150.6" r="1.6"/><circle cx="593.2" cy="145.8" r="1.6"/><circle cx="596.9" cy="152.6" r="1.6"/><circle cx="586.1" cy="144.6" r="1.6"/><circle cx="572.0" cy="156.4" r="1.6"/><circle cx="609.8" cy="152.1" r="1.6"/><circle cx="609.2" cy="158.0" r="1.6"/><circle cx="591.9" cy="149.6" r="1.6"/><circle cx="624.0" cy="152.3" r="1.6"/><circle cx="604.6" cy="147.2" r="1.6"/><circle cx="617.3" cy="156.3" r="1.6"/><circle cx="559.6" cy="143.2" r="1.6"/><circle cx="626.8" cy="154.3" r="1.6"/><circle cx="584.9" cy="158.2" r="1.6"/><circle cx="609.3" cy="158.2" r="1.6"/><circle cx="614.6" cy="154.1" r="1.6"/><circle cx="610.0" cy="149.6" r="1.6"/><circle cx="597.2" cy="146.1" r="1.6"/><circle cx="551.2" cy="147.1" r="1.6"/><circle cx="608.0" cy="156.2" r="1.6"/><circle cx="611.1" cy="153.5" r="1.6"/><circle cx="590.8" cy="149.0" r="1.6"/><circle cx="601.4" cy="157.0" r="1.6"/><circle cx="579.1" cy="146.9" r="1.6"/><circle cx="571.1" cy="147.8" r="1.6"/><circle cx="598.2" cy="154.8" r="1.6"/><circle cx="586.8" cy="147.8" r="1.6"/><circle cx="588.8" cy="151.8" r="1.6"/><circle cx="617.8" cy="152.6" r="1.6"/><circle cx="624.9" cy="155.3" r="1.6"/><circle cx="581.1" cy="153.5" r="1.6"/><circle cx="598.6" cy="151.1" r="1.6"/><circle cx="585.6" cy="156.1" r="1.6"/><circle cx="574.2" cy="156.5" r="1.6"/><circle cx="593.1" cy="148.2" r="1.6"/><circle cx="586.6" cy="154.5" r="1.6"/><circle cx="615.6" cy="151.0" r="1.6"/><circle cx="591.5" cy="154.3" r="1.6"/><circle cx="584.6" cy="144.1" r="1.6"/><circle cx="602.5" cy="148.5" r="1.6"/><circle cx="600.3" cy="147.7" r="1.6"/><circle cx="609.0" cy="148.5" r="1.6"/><circle cx="600.2" cy="150.8" r="1.6"/><circle cx="588.3" cy="148.1" r="1.6"/><circle cx="584.8" cy="150.5" r="1.6"/><circle cx="613.5" cy="149.4" r="1.6"/><circle cx="564.9" cy="147.4" r="1.6"/><circle cx="579.2" cy="149.5" r="1.6"/><circle cx="614.1" cy="156.6" r="1.6"/><circle cx="610.7" cy="156.4" r="1.6"/><circle cx="565.1" cy="157.5" r="1.6"/><circle cx="616.8" cy="156.2" r="1.6"/><circle cx="561.5" cy="145.1" r="1.6"/><circle cx="617.4" cy="155.6" r="1.6"/><circle cx="618.9" cy="156.8" r="1.6"/><circle cx="592.5" cy="151.3" r="1.6"/><circle cx="598.1" cy="150.3" r="1.6"/><circle cx="587.4" cy="150.3" r="1.6"/><circle cx="577.3" cy="146.0" r="1.6"/><circle cx="580.1" cy="148.0" r="1.6"/><circle cx="619.9" cy="152.8" r="1.6"/><circle cx="597.7" cy="158.5" r="1.6"/><circle cx="584.2" cy="157.9" r="1.6"/><circle cx="618.0" cy="157.6" r="1.6"/><circle cx="591.3" cy="147.1" r="1.6"/><circle cx="589.7" cy="148.7" r="1.6"/><circle cx="611.8" cy="154.4" r="1.6"/><circle cx="551.1" cy="155.4" r="1.6"/><circle cx="619.1" cy="151.1" r="1.6"/><circle cx="574.8" cy="155.9" r="1.6"/><circle cx="547.4" cy="149.7" r="1.6"/><circle cx="572.1" cy="156.1" r="1.6"/><circle cx="574.1" cy="148.1" r="1.6"/><circle cx="632.7" cy="153.6" r="1.6"/><circle cx="607.3" cy="156.6" r="1.6"/><circle cx="584.2" cy="149.4" r="1.6"/><circle cx="621.8" cy="155.4" r="1.6"/><circle cx="557.8" cy="149.0" r="1.6"/><circle cx="587.3" cy="148.5" r="1.6"/><circle cx="583.9" cy="148.5" r="1.6"/><circle cx="597.8" cy="155.1" r="1.6"/><circle cx="603.8" cy="146.7" r="1.6"/><circle cx="593.1" cy="157.9" r="1.6"/><circle cx="619.7" cy="157.4" r="1.6"/><circle cx="590.9" cy="153.4" r="1.6"/><circle cx="586.1" cy="146.8" r="1.6"/><circle cx="595.0" cy="147.2" r="1.6"/><circle cx="579.9" cy="153.9" r="1.6"/><circle cx="595.8" cy="147.5" r="1.6"/><circle cx="585.9" cy="145.6" r="1.6"/><circle cx="614.1" cy="150.7" r="1.6"/><circle cx="592.3" cy="152.3" r="1.6"/><circle cx="566.0" cy="147.7" r="1.6"/><circle cx="599.4" cy="146.0" r="1.6"/><circle cx="588.8" cy="158.2" r="1.6"/><circle cx="596.4" cy="145.3" r="1.6"/><circle cx="567.5" cy="144.7" r="1.6"/><circle cx="616.9" cy="151.8" r="1.6"/><circle cx="603.8" cy="151.0" r="1.6"/><circle cx="598.4" cy="148.2" r="1.6"/><circle cx="594.5" cy="148.1" r="1.6"/><circle cx="555.1" cy="147.2" r="1.6"/><circle cx="622.2" cy="157.5" r="1.6"/><circle cx="576.0" cy="155.0" r="1.6"/><circle cx="548.7" cy="152.8" r="1.6"/><circle cx="573.3" cy="159.6" r="1.6"/><circle cx="633.4" cy="154.3" r="1.6"/><circle cx="609.5" cy="152.0" r="1.6"/><circle cx="629.5" cy="156.6" r="1.6"/><circle cx="615.2" cy="152.5" r="1.6"/><circle cx="593.5" cy="144.9" r="1.6"/><circle cx="587.5" cy="155.1" r="1.6"/><circle cx="580.5" cy="157.1" r="1.6"/><circle cx="569.8" cy="144.9" r="1.6"/><circle cx="606.7" cy="155.0" r="1.6"/><circle cx="574.6" cy="145.7" r="1.6"/><circle cx="622.1" cy="153.2" r="1.6"/><circle cx="559.3" cy="148.2" r="1.6"/><circle cx="557.3" cy="152.1" r="1.6"/><circle cx="580.3" cy="154.2" r="1.6"/><circle cx="597.3" cy="152.5" r="1.6"/><circle cx="608.7" cy="150.1" r="1.6"/><circle cx="594.2" cy="158.3" r="1.6"/><circle cx="581.6" cy="147.1" r="1.6"/><circle cx="556.9" cy="144.2" r="1.6"/><circle cx="552.2" cy="153.9" r="1.6"/><circle cx="586.3" cy="157.1" r="1.6"/><circle cx="580.8" cy="144.0" r="1.6"/><circle cx="598.1" cy="148.2" r="1.6"/><circle cx="574.7" cy="154.7" r="1.6"/><circle cx="633.5" cy="154.5" r="1.6"/><circle cx="580.3" cy="145.2" r="1.6"/><circle cx="595.6" cy="148.3" r="1.6"/><circle cx="605.7" cy="155.5" r="1.6"/><circle cx="602.7" cy="151.9" r="1.6"/><circle cx="586.8" cy="158.3" r="1.6"/><circle cx="607.0" cy="152.5" r="1.6"/><circle cx="615.5" cy="155.0" r="1.6"/><circle cx="591.9" cy="150.8" r="1.6"/><circle cx="584.1" cy="149.4" r="1.6"/><circle cx="593.5" cy="146.4" r="1.6"/><circle cx="606.4" cy="157.6" r="1.6"/><circle cx="610.4" cy="154.3" r="1.6"/><circle cx="600.8" cy="157.2" r="1.6"/><circle cx="603.3" cy="147.8" r="1.6"/><circle cx="600.5" cy="156.4" r="1.6"/><circle cx="600.0" cy="149.8" r="1.6"/><circle cx="624.5" cy="153.7" r="1.6"/><circle cx="592.1" cy="150.5" r="1.6"/><circle cx="611.3" cy="157.7" r="1.6"/><circle cx="611.8" cy="156.8" r="1.6"/><circle cx="594.8" cy="158.1" r="1.6"/><circle cx="574.0" cy="145.9" r="1.6"/><circle cx="587.8" cy="153.1" r="1.6"/><circle cx="581.4" cy="150.3" r="1.6"/><circle cx="603.9" cy="149.0" r="1.6"/></g>
<g stroke="#4a4a4a" stroke-width="0.7" fill="none"><line x1="549" y1="152" x2="446" y2="136"/><line x1="549" y1="152" x2="452" y2="141"/><line x1="549" y1="152" x2="436" y2="144"/><line x1="549" y1="152" x2="452" y2="148"/><line x1="549" y1="152" x2="440" y2="155"/><line x1="549" y1="152" x2="590" y2="158.5"/><line x1="549" y1="152" x2="470" y2="148"/><line x1="549" y1="152" x2="480" y2="144"/></g>
<text x="439.3" y="135.4" class="ml">meta_2</text>
<text x="444" y="140.6" class="ml">meta_5</text>
<text x="424.3" y="144" class="ml">meta_4</text>
<text x="447" y="148.2" class="ml">meta_8</text>
<text x="427" y="155.6" class="ml">meta_10</text>
<text x="592" y="162.8" class="ml">meta_24</text>
<text x="0.9" y="353.2" class="lbl">C</text>
<g stroke="#9a9a9a" stroke-width="0.8"><rect x="136.30" y="390.30" width="24.41" height="18.42" fill="#E4593F"/><rect x="160.71" y="390.30" width="24.41" height="18.42" fill="#D93A2E"/><rect x="185.12" y="390.30" width="24.41" height="18.42" fill="#DF4D36"/><rect x="209.53" y="390.30" width="24.41" height="18.42" fill="#E3563C"/><rect x="233.94" y="390.30" width="24.41" height="18.42" fill="#DD4A34"/><rect x="258.36" y="390.30" width="24.41" height="18.42" fill="#4E7DB8"/><rect x="282.77" y="390.30" width="24.41" height="18.42" fill="#7AA5CF"/><rect x="307.18" y="390.30" width="24.41" height="18.42" fill="#6F9CCA"/><rect x="331.59" y="390.30" width="24.41" height="18.42" fill="#9FC4DF"/><rect x="136.30" y="408.73" width="24.41" height="18.42" fill="#D8352C"/><rect x="160.71" y="408.73" width="24.41" height="18.42" fill="#EA6A47"/><rect x="185.12" y="408.73" width="24.41" height="18.42" fill="#EB6D48"/><rect x="209.53" y="408.73" width="24.41" height="18.42" fill="#D7342B"/><rect x="233.94" y="408.73" width="24.41" height="18.42" fill="#DF4D36"/><rect x="258.36" y="408.73" width="24.41" height="18.42" fill="#4F7EB9"/><rect x="282.77" y="408.73" width="24.41" height="18.42" fill="#7AA6D0"/><rect x="307.18" y="408.73" width="24.41" height="18.42" fill="#84ADD3"/><rect x="331.59" y="408.73" width="24.41" height="18.42" fill="#82ACD3"/><rect x="136.30" y="427.15" width="24.41" height="18.42" fill="#D5322A"/><rect x="160.71" y="427.15" width="24.41" height="18.42" fill="#DD4733"/><rect x="185.12" y="427.15" width="24.41" height="18.42" fill="#E96846"/><rect x="209.53" y="427.15" width="24.41" height="18.42" fill="#DD4733"/><rect x="233.94" y="427.15" width="24.41" height="18.42" fill="#DB4432"/><rect x="258.36" y="427.15" width="24.41" height="18.42" fill="#4D7CB8"/><rect x="282.77" y="427.15" width="24.41" height="18.42" fill="#92BADB"/><rect x="307.18" y="427.15" width="24.41" height="18.42" fill="#88B1D6"/><rect x="331.59" y="427.15" width="24.41" height="18.42" fill="#8FB7D9"/><rect x="136.30" y="445.57" width="24.41" height="18.42" fill="#F08A5C"/><rect x="160.71" y="445.57" width="24.41" height="18.42" fill="#F08A5C"/><rect x="185.12" y="445.57" width="24.41" height="18.42" fill="#E35A3E"/><rect x="209.53" y="445.57" width="24.41" height="18.42" fill="#E04F38"/><rect x="233.94" y="445.57" width="24.41" height="18.42" fill="#EA6A47"/><rect x="258.36" y="445.57" width="24.41" height="18.42" fill="#A2C6E0"/><rect x="282.77" y="445.57" width="24.41" height="18.42" fill="#5383BC"/><rect x="307.18" y="445.57" width="24.41" height="18.42" fill="#7AA5CF"/><rect x="331.59" y="445.57" width="24.41" height="18.42" fill="#7BA6CF"/><rect x="136.30" y="464.00" width="24.41" height="18.42" fill="#E96846"/><rect x="160.71" y="464.00" width="24.41" height="18.42" fill="#DC4733"/><rect x="185.12" y="464.00" width="24.41" height="18.42" fill="#DC4733"/><rect x="209.53" y="464.00" width="24.41" height="18.42" fill="#DF4D36"/><rect x="233.94" y="464.00" width="24.41" height="18.42" fill="#DE4B35"/><rect x="258.36" y="464.00" width="24.41" height="18.42" fill="#7AA5CF"/><rect x="282.77" y="464.00" width="24.41" height="18.42" fill="#6C99C8"/><rect x="307.18" y="464.00" width="24.41" height="18.42" fill="#77A2CD"/><rect x="331.59" y="464.00" width="24.41" height="18.42" fill="#5F8FC3"/><rect x="136.30" y="482.43" width="24.41" height="18.42" fill="#F7C084"/><rect x="160.71" y="482.43" width="24.41" height="18.42" fill="#F8C888"/><rect x="185.12" y="482.43" width="24.41" height="18.42" fill="#F7BE82"/><rect x="209.53" y="482.43" width="24.41" height="18.42" fill="#F29D68"/><rect x="233.94" y="482.43" width="24.41" height="18.42" fill="#F8C688"/><rect x="258.36" y="482.43" width="24.41" height="18.42" fill="#E0F0F4"/><rect x="282.77" y="482.43" width="24.41" height="18.42" fill="#93BADA"/><rect x="307.18" y="482.43" width="24.41" height="18.42" fill="#A5C8E0"/><rect x="331.59" y="482.43" width="24.41" height="18.42" fill="#AECFE5"/><rect x="136.30" y="500.85" width="24.41" height="18.42" fill="#F8C486"/><rect x="160.71" y="500.85" width="24.41" height="18.42" fill="#F8CA8A"/><rect x="185.12" y="500.85" width="24.41" height="18.42" fill="#F39F68"/><rect x="209.53" y="500.85" width="24.41" height="18.42" fill="#FADB98"/><rect x="233.94" y="500.85" width="24.41" height="18.42" fill="#FBE09C"/><rect x="258.36" y="500.85" width="24.41" height="18.42" fill="#F5F8D0"/><rect x="282.77" y="500.85" width="24.41" height="18.42" fill="#C8E0EE"/><rect x="307.18" y="500.85" width="24.41" height="18.42" fill="#EFF6E2"/><rect x="331.59" y="500.85" width="24.41" height="18.42" fill="#EFF5E0"/><rect x="136.30" y="519.27" width="24.41" height="18.42" fill="#F7BF82"/><rect x="160.71" y="519.27" width="24.41" height="18.42" fill="#FBE29E"/><rect x="185.12" y="519.27" width="24.41" height="18.42" fill="#FBE09C"/><rect x="209.53" y="519.27" width="24.41" height="18.42" fill="#FBE6A2"/><rect x="233.94" y="519.27" width="24.41" height="18.42" fill="#FBE5A3"/><rect x="258.36" y="519.27" width="24.41" height="18.42" fill="#F4F8D0"/><rect x="282.77" y="519.27" width="24.41" height="18.42" fill="#F3F8D5"/><rect x="307.18" y="519.27" width="24.41" height="18.42" fill="#F7F9CB"/><rect x="331.59" y="519.27" width="24.41" height="18.42" fill="#F7F6C0"/><rect x="136.30" y="537.70" width="24.41" height="18.42" fill="#4F7EB9"/><rect x="160.71" y="537.70" width="24.41" height="18.42" fill="#8AB3D6"/><rect x="185.12" y="537.70" width="24.41" height="18.42" fill="#8AB3D6"/><rect x="209.53" y="537.70" width="24.41" height="18.42" fill="#6D9AC9"/><rect x="233.94" y="537.70" width="24.41" height="18.42" fill="#6A98C7"/><rect x="258.36" y="537.70" width="24.41" height="18.42" fill="#E45C40"/><rect x="282.77" y="537.70" width="24.41" height="18.42" fill="#F08A5C"/><rect x="307.18" y="537.70" width="24.41" height="18.42" fill="#F08A5C"/><rect x="331.59" y="537.70" width="24.41" height="18.42" fill="#E45C40"/><rect x="136.30" y="556.12" width="24.41" height="18.42" fill="#7CA7D0"/><rect x="160.71" y="556.12" width="24.41" height="18.42" fill="#7FA9D1"/><rect x="185.12" y="556.12" width="24.41" height="18.42" fill="#7CA7D0"/><rect x="209.53" y="556.12" width="24.41" height="18.42" fill="#4D7CB8"/><rect x="233.94" y="556.12" width="24.41" height="18.42" fill="#8DB6D8"/><rect x="258.36" y="556.12" width="24.41" height="18.42" fill="#E3573D"/><rect x="282.77" y="556.12" width="24.41" height="18.42" fill="#DC4531"/><rect x="307.18" y="556.12" width="24.41" height="18.42" fill="#E15339"/><rect x="331.59" y="556.12" width="24.41" height="18.42" fill="#EA6C48"/><rect x="136.30" y="574.55" width="24.41" height="18.42" fill="#6A97C7"/><rect x="160.71" y="574.55" width="24.41" height="18.42" fill="#6E9BC9"/><rect x="185.12" y="574.55" width="24.41" height="18.42" fill="#6E9BC9"/><rect x="209.53" y="574.55" width="24.41" height="18.42" fill="#79A4CF"/><rect x="233.94" y="574.55" width="24.41" height="18.42" fill="#6E9BC9"/><rect x="258.36" y="574.55" width="24.41" height="18.42" fill="#D9392C"/><rect x="282.77" y="574.55" width="24.41" height="18.42" fill="#E45C40"/><rect x="307.18" y="574.55" width="24.41" height="18.42" fill="#E6603F"/><rect x="331.59" y="574.55" width="24.41" height="18.42" fill="#F08A5C"/><rect x="136.30" y="592.97" width="24.41" height="18.42" fill="#AACCE3"/><rect x="160.71" y="592.97" width="24.41" height="18.42" fill="#B3D3E7"/><rect x="185.12" y="592.97" width="24.41" height="18.42" fill="#A7CAE2"/><rect x="209.53" y="592.97" width="24.41" height="18.42" fill="#6391C4"/><rect x="233.94" y="592.97" width="24.41" height="18.42" fill="#98BFDD"/><rect x="258.36" y="592.97" width="24.41" height="18.42" fill="#E9674A"/><rect x="282.77" y="592.97" width="24.41" height="18.42" fill="#E55F42"/><rect x="307.18" y="592.97" width="24.41" height="18.42" fill="#EC7450"/><rect x="331.59" y="592.97" width="24.41" height="18.42" fill="#EA6C48"/><rect x="136.30" y="611.40" width="24.41" height="18.42" fill="#B3D3E7"/><rect x="160.71" y="611.40" width="24.41" height="18.42" fill="#B3D3E7"/><rect x="185.12" y="611.40" width="24.41" height="18.42" fill="#94BBDB"/><rect x="209.53" y="611.40" width="24.41" height="18.42" fill="#8AB3D6"/><rect x="233.94" y="611.40" width="24.41" height="18.42" fill="#94BBDB"/><rect x="258.36" y="611.40" width="24.41" height="18.42" fill="#F4A06A"/><rect x="282.77" y="611.40" width="24.41" height="18.42" fill="#D93A2D"/><rect x="307.18" y="611.40" width="24.41" height="18.42" fill="#E6603F"/><rect x="331.59" y="611.40" width="24.41" height="18.42" fill="#E3573D"/><rect x="136.30" y="629.83" width="24.41" height="18.42" fill="#A8CBE2"/><rect x="160.71" y="629.83" width="24.41" height="18.42" fill="#A5C8E1"/><rect x="185.12" y="629.83" width="24.41" height="18.42" fill="#6E9BC9"/><rect x="209.53" y="629.83" width="24.41" height="18.42" fill="#8AB3D6"/><rect x="233.94" y="629.83" width="24.41" height="18.42" fill="#A5C8E1"/><rect x="258.36" y="629.83" width="24.41" height="18.42" fill="#F4A06A"/><rect x="282.77" y="629.83" width="24.41" height="18.42" fill="#E15339"/><rect x="307.18" y="629.83" width="24.41" height="18.42" fill="#F4A06A"/><rect x="331.59" y="629.83" width="24.41" height="18.42" fill="#EA6A47"/><rect x="136.30" y="648.25" width="24.41" height="18.42" fill="#DDEEF4"/><rect x="160.71" y="648.25" width="24.41" height="18.42" fill="#E4F2F2"/><rect x="185.12" y="648.25" width="24.41" height="18.42" fill="#F5F8C8"/><rect x="209.53" y="648.25" width="24.41" height="18.42" fill="#E9F3E8"/><rect x="233.94" y="648.25" width="24.41" height="18.42" fill="#E4F2F2"/><rect x="258.36" y="648.25" width="24.41" height="18.42" fill="#F8C084"/><rect x="282.77" y="648.25" width="24.41" height="18.42" fill="#FBDE98"/><rect x="307.18" y="648.25" width="24.41" height="18.42" fill="#F49A64"/><rect x="331.59" y="648.25" width="24.41" height="18.42" fill="#F9CE8C"/><rect x="136.30" y="666.67" width="24.41" height="18.42" fill="#E4F2F2"/><rect x="160.71" y="666.67" width="24.41" height="18.42" fill="#EEF5DE"/><rect x="185.12" y="666.67" width="24.41" height="18.42" fill="#EAF4E8"/><rect x="209.53" y="666.67" width="24.41" height="18.42" fill="#C1DCEC"/><rect x="233.94" y="666.67" width="24.41" height="18.42" fill="#B7D6E8"/><rect x="258.36" y="666.67" width="24.41" height="18.42" fill="#F6B47A"/><rect x="282.77" y="666.67" width="24.41" height="18.42" fill="#FBDF9A"/><rect x="307.18" y="666.67" width="24.41" height="18.42" fill="#FBDB96"/><rect x="331.59" y="666.67" width="24.41" height="18.42" fill="#FCEDAE"/><rect x="136.30" y="685.10" width="24.41" height="18.42" fill="#EEF5DE"/><rect x="160.71" y="685.10" width="24.41" height="18.42" fill="#B3D3E7"/><rect x="185.12" y="685.10" width="24.41" height="18.42" fill="#D4E9F2"/><rect x="209.53" y="685.10" width="24.41" height="18.42" fill="#EAF4E8"/><rect x="233.94" y="685.10" width="24.41" height="18.42" fill="#A5C8E1"/><rect x="258.36" y="685.10" width="24.41" height="18.42" fill="#FAD590"/><rect x="282.77" y="685.10" width="24.41" height="18.42" fill="#F8C283"/><rect x="307.18" y="685.10" width="24.41" height="18.42" fill="#F4A56B"/><rect x="331.59" y="685.10" width="24.41" height="18.42" fill="#F5A96D"/><rect x="136.30" y="703.52" width="24.41" height="18.42" fill="#E4F2F2"/><rect x="160.71" y="703.52" width="24.41" height="18.42" fill="#C6DFED"/><rect x="185.12" y="703.52" width="24.41" height="18.42" fill="#7DA8D0"/><rect x="209.53" y="703.52" width="24.41" height="18.42" fill="#ADCEE4"/><rect x="233.94" y="703.52" width="24.41" height="18.42" fill="#A5C8E1"/><rect x="258.36" y="703.52" width="24.41" height="18.42" fill="#F8C384"/><rect x="282.77" y="703.52" width="24.41" height="18.42" fill="#E35A3E"/><rect x="307.18" y="703.52" width="24.41" height="18.42" fill="#F6AE72"/><rect x="331.59" y="703.52" width="24.41" height="18.42" fill="#F4955F"/><rect x="136.30" y="721.95" width="24.41" height="18.42" fill="#FAF3BA"/><rect x="160.71" y="721.95" width="24.41" height="18.42" fill="#F8F5C2"/><rect x="185.12" y="721.95" width="24.41" height="18.42" fill="#C1DCEC"/><rect x="209.53" y="721.95" width="24.41" height="18.42" fill="#E4F2F2"/><rect x="233.94" y="721.95" width="24.41" height="18.42" fill="#E9F3EA"/><rect x="258.36" y="721.95" width="24.41" height="18.42" fill="#FBE09A"/><rect x="282.77" y="721.95" width="24.41" height="18.42" fill="#F9CB8A"/><rect x="307.18" y="721.95" width="24.41" height="18.42" fill="#FBF3BA"/><rect x="331.59" y="721.95" width="24.41" height="18.42" fill="#F6F7C6"/><rect x="136.30" y="740.38" width="24.41" height="18.42" fill="#DCEEF5"/><rect x="160.71" y="740.38" width="24.41" height="18.42" fill="#E4F2F2"/><rect x="185.12" y="740.38" width="24.41" height="18.42" fill="#FBEBAA"/><rect x="209.53" y="740.38" width="24.41" height="18.42" fill="#FBE3A0"/><rect x="233.94" y="740.38" width="24.41" height="18.42" fill="#FAEAA8"/><rect x="258.36" y="740.38" width="24.41" height="18.42" fill="#FBE29E"/><rect x="282.77" y="740.38" width="24.41" height="18.42" fill="#F3F6CC"/><rect x="307.18" y="740.38" width="24.41" height="18.42" fill="#FBE2A0"/><rect x="331.59" y="740.38" width="24.41" height="18.42" fill="#FBE3A0"/></g>
<g class="star" text-anchor="middle"><text transform="translate(148.5,402.0) scale(1.4,1)">**</text><text transform="translate(172.9,402.0) scale(1.4,1)">***</text><text transform="translate(197.3,402.0) scale(1.4,1)">**</text><text transform="translate(221.7,402.0) scale(1.4,1)">**</text><text transform="translate(246.2,402.0) scale(1.4,1)">**</text><text transform="translate(270.6,402.0) scale(1.4,1)">***</text><text transform="translate(295.0,402.0) scale(1.4,1)">**</text><text transform="translate(319.4,402.0) scale(1.4,1)">**</text><text transform="translate(148.5,420.4) scale(1.4,1)">***</text><text transform="translate(172.9,420.4) scale(1.4,1)">*</text><text transform="translate(197.3,420.4) scale(1.4,1)">*</text><text transform="translate(221.7,420.4) scale(1.4,1)">***</text><text transform="translate(246.2,420.4) scale(1.4,1)">**</text><text transform="translate(270.6,420.4) scale(1.4,1)">***</text><text transform="translate(295.0,420.4) scale(1.4,1)">**</text><text transform="translate(319.4,420.4) scale(1.4,1)">*</text><text transform="translate(343.8,420.4) scale(1.4,1)">*</text><text transform="translate(148.5,438.9) scale(1.4,1)">***</text><text transform="translate(172.9,438.9) scale(1.4,1)">**</text><text transform="translate(197.3,438.9) scale(1.4,1)">*</text><text transform="translate(221.7,438.9) scale(1.4,1)">**</text><text transform="translate(246.2,438.9) scale(1.4,1)">**</text><text transform="translate(270.6,438.9) scale(1.4,1)">***</text><text transform="translate(295.0,438.9) scale(1.4,1)">*</text><text transform="translate(319.4,438.9) scale(1.4,1)">*</text><text transform="translate(343.8,438.9) scale(1.4,1)">*</text><text transform="translate(197.3,457.3) scale(1.4,1)">**</text><text transform="translate(221.7,457.3) scale(1.4,1)">**</text><text transform="translate(246.2,457.3) scale(1.4,1)">*</text><text transform="translate(295.0,457.3) scale(1.4,1)">***</text><text transform="translate(319.4,457.3) scale(1.4,1)">**</text><text transform="translate(343.8,457.3) scale(1.4,1)">*</text><text transform="translate(148.5,475.7) scale(1.4,1)">*</text><text transform="translate(172.9,475.7) scale(1.4,1)">**</text><text transform="translate(197.3,475.7) scale(1.4,1)">**</text><text transform="translate(221.7,475.7) scale(1.4,1)">**</text><text transform="translate(246.2,475.7) scale(1.4,1)">**</text><text transform="translate(270.6,475.7) scale(1.4,1)">**</text><text transform="translate(295.0,475.7) scale(1.4,1)">**</text><text transform="translate(319.4,475.7) scale(1.4,1)">**</text><text transform="translate(343.8,475.7) scale(1.4,1)">**</text><text transform="translate(148.5,549.4) scale(1.4,1)">**</text><text transform="translate(172.9,549.4) scale(1.4,1)">*</text><text transform="translate(197.3,549.4) scale(1.4,1)">*</text><text transform="translate(221.7,549.4) scale(1.4,1)">**</text><text transform="translate(246.2,549.4) scale(1.4,1)">**</text><text transform="translate(270.6,549.4) scale(1.4,1)">**</text><text transform="translate(343.8,549.4) scale(1.4,1)">*</text><text transform="translate(148.5,567.8) scale(1.4,1)">*</text><text transform="translate(172.9,567.8) scale(1.4,1)">*</text><text transform="translate(197.3,567.8) scale(1.4,1)">**</text><text transform="translate(221.7,567.8) scale(1.4,1)">***</text><text transform="translate(246.2,567.8) scale(1.4,1)">*</text><text transform="translate(270.6,567.8) scale(1.4,1)">**</text><text transform="translate(295.0,567.8) scale(1.4,1)">**</text><text transform="translate(319.4,567.8) scale(1.4,1)">**</text><text transform="translate(343.8,567.8) scale(1.4,1)">*</text><text transform="translate(148.5,586.3) scale(1.4,1)">**</text><text transform="translate(172.9,586.3) scale(1.4,1)">**</text><text transform="translate(197.3,586.3) scale(1.4,1)">**</text><text transform="translate(221.7,586.3) scale(1.4,1)">**</text><text transform="translate(246.2,586.3) scale(1.4,1)">**</text><text transform="translate(270.6,586.3) scale(1.4,1)">***</text><text transform="translate(295.0,586.3) scale(1.4,1)">**</text><text transform="translate(319.4,586.3) scale(1.4,1)">*</text><text transform="translate(221.7,604.7) scale(1.4,1)">**</text><text transform="translate(246.2,604.7) scale(1.4,1)">*</text><text transform="translate(270.6,604.7) scale(1.4,1)">*</text><text transform="translate(295.0,604.7) scale(1.4,1)">**</text><text transform="translate(319.4,604.7) scale(1.4,1)">*</text><text transform="translate(343.8,604.7) scale(1.4,1)">*</text><text transform="translate(197.3,623.1) scale(1.4,1)">*</text><text transform="translate(221.7,623.1) scale(1.4,1)">*</text><text transform="translate(246.2,623.1) scale(1.4,1)">*</text><text transform="translate(295.0,623.1) scale(1.4,1)">***</text><text transform="translate(319.4,623.1) scale(1.4,1)">*</text><text transform="translate(343.8,623.1) scale(1.4,1)">**</text><text transform="translate(197.3,641.5) scale(1.4,1)">**</text><text transform="translate(221.7,641.5) scale(1.4,1)">*</text><text transform="translate(295.0,641.5) scale(1.4,1)">**</text><text transform="translate(343.8,641.5) scale(1.4,1)">*</text><text transform="translate(197.3,715.2) scale(1.4,1)">*</text><text transform="translate(295.0,715.2) scale(1.4,1)">*</text></g>
<text transform="translate(361.2,402.3) scale(1.372,1)" class="rl">uncultured_bacterium_f_Muribaculaceae</text>
<text transform="translate(361.2,420.7) scale(1.372,1)" class="rl">Butyrivibrio_2</text>
<text transform="translate(361.2,439.2) scale(1.372,1)" class="rl">Succiniclasticum</text>
<text transform="translate(361.2,457.6) scale(1.372,1)" class="rl">Pseudobutyrivibrio</text>
<text transform="translate(361.2,476.0) scale(1.372,1)" class="rl">Ruminococcaceae_NK4A214_group</text>
<text transform="translate(361.2,494.4) scale(1.372,1)" class="rl">Prevotella_1</text>
<text transform="translate(361.2,512.9) scale(1.372,1)" class="rl">Lachnospiraceae_AC2044_group</text>
<text transform="translate(361.2,531.3) scale(1.372,1)" class="rl">Ruminococcaceae_UCG-005</text>
<text transform="translate(361.2,549.7) scale(1.372,1)" class="rl">uncultured_bacterium_f_Bacteroidales_BS11_gut_group</text>
<text transform="translate(361.2,568.1) scale(1.372,1)" class="rl">Rikenellaceae_RC9_gut_group</text>
<text transform="translate(361.2,586.6) scale(1.372,1)" class="rl">[Eubacterium]_coprostanoligenes_group</text>
<text transform="translate(361.2,605.0) scale(1.372,1)" class="rl">Christensenellaceae_R-7_group</text>
<text transform="translate(361.2,623.4) scale(1.372,1)" class="rl">Prevotellaceae_UCG-001</text>
<text transform="translate(361.2,641.8) scale(1.372,1)" class="rl">Prevotellaceae_UCG-003</text>
<text transform="translate(361.2,660.3) scale(1.372,1)" class="rl">Fretibacterium</text>
<text transform="translate(361.2,678.7) scale(1.372,1)" class="rl">Ruminococcaceae_UCG-014</text>
<text transform="translate(361.2,697.1) scale(1.372,1)" class="rl">uncultured_bacterium_o_Absconditabacteriales_SR1</text>
<text transform="translate(361.2,715.5) scale(1.372,1)" class="rl">uncultured_bacterium_o_WCHB1-41</text>
<text transform="translate(361.2,734.0) scale(1.372,1)" class="rl">Ruminococcus_1</text>
<text transform="translate(361.2,752.4) scale(1.372,1)" class="rl">uncultured_bacterium_f_F082</text>
<text transform="translate(142.5,762.3) rotate(90) scale(1,1.52)" class="cl">PC</text>
<text transform="translate(166.9,762.3) rotate(90) scale(1,1.52)" class="cl">Chor</text>
<text transform="translate(191.3,762.3) rotate(90) scale(1,1.52)" class="cl">His</text>
<text transform="translate(215.7,762.3) rotate(90) scale(1,1.52)" class="cl">Crea</text>
<text transform="translate(240.2,762.3) rotate(90) scale(1,1.52)" class="cl">Ga</text>
<text transform="translate(264.6,762.3) rotate(90) scale(1,1.52)" class="cl">Cd</text>
<text transform="translate(289.0,762.3) rotate(90) scale(1,1.52)" class="cl">Bili</text>
<text transform="translate(313.4,762.3) rotate(90) scale(1,1.52)" class="cl">4-H-2o-a</text>
<text transform="translate(337.8,762.3) rotate(90) scale(1,1.52)" class="cl">Ta3-s</text>
<defs><linearGradient id="cb2" x1="0" y1="1" x2="0" y2="0"><stop offset="0" stop-color="#4575B4"/><stop offset="0.19" stop-color="#91BFDB"/><stop offset="0.37" stop-color="#E0F3F8"/><stop offset="0.56" stop-color="#FFFFBF"/><stop offset="0.69" stop-color="#FEE090"/><stop offset="0.81" stop-color="#FC8D59"/><stop offset="1" stop-color="#D73027"/></linearGradient></defs>
<rect x="643.2" y="390.4" width="12.5" height="130.2" fill="url(#cb2)"/>
<text transform="translate(660.6,421.2) scale(1.32,1)" class="cbc">0.5</text>
<text transform="translate(660.6,455.8) scale(1.32,1)" class="cbc">0</text>
<text transform="translate(660.6,490.9) scale(1.32,1)" class="cbc">−0.5</text>
<path d="M134.0 417.9L134.0 436.4M134.0 417.9L136.3 417.9M134.0 436.4L136.3 436.4M132.6 399.5L132.6 427.1M132.6 399.5L136.3 399.5M132.6 427.1L134.0 427.1M131.5 454.8L131.5 473.2M131.5 454.8L136.3 454.8M131.5 473.2L136.3 473.2M128.2 413.3L128.2 464.0M128.2 413.3L132.6 413.3M128.2 464.0L131.5 464.0M129.1 510.1L129.1 528.5M129.1 510.1L136.3 510.1M129.1 528.5L136.3 528.5M121.0 491.6L121.0 519.3M121.0 491.6L136.3 491.6M121.0 519.3L129.1 519.3M109.1 438.7L109.1 505.5M109.1 438.7L128.2 438.7M109.1 505.5L121.0 505.5M133.6 565.3L133.6 583.8M133.6 565.3L136.3 565.3M133.6 583.8L136.3 583.8M131.0 546.9L131.0 574.5M131.0 546.9L136.3 546.9M131.0 574.5L133.6 574.5M131.3 620.6L131.3 639.0M131.3 620.6L136.3 620.6M131.3 639.0L136.3 639.0M130.5 602.2L130.5 629.8M130.5 602.2L136.3 602.2M130.5 629.8L131.3 629.8M126.3 560.7L126.3 616.0M126.3 560.7L131.0 560.7M126.3 616.0L130.5 616.0M129.7 657.5L129.7 675.9M129.7 657.5L136.3 657.5M129.7 675.9L136.3 675.9M129.4 694.3L129.4 712.7M129.4 694.3L136.3 694.3M129.4 712.7L136.3 712.7M125.3 666.7L125.3 703.5M125.3 666.7L129.7 666.7M125.3 703.5L129.4 703.5M124.5 731.2L124.5 749.6M124.5 731.2L136.3 731.2M124.5 749.6L136.3 749.6M117.5 685.1L117.5 740.4M117.5 685.1L125.3 685.1M117.5 740.4L124.5 740.4M107.8 588.4L107.8 712.7M107.8 588.4L126.3 588.4M107.8 712.7L117.5 712.7M72.6 472.1L72.6 650.6M72.6 472.1L109.1 472.1M72.6 650.6L107.8 650.6M148.5 385.7L172.9 385.7M148.5 385.7L148.5 390.3M172.9 385.7L172.9 390.3M221.7 386.5L246.2 386.5M221.7 386.5L221.7 390.3M246.2 386.5L246.2 390.3M197.3 385.4L233.9 385.4M197.3 385.4L197.3 390.3M233.9 385.4L233.9 386.5M160.7 383.0L215.6 383.0M160.7 383.0L160.7 385.7M215.6 383.0L215.6 385.4M319.4 386.4L343.8 386.4M319.4 386.4L319.4 390.3M343.8 386.4L343.8 390.3M295.0 384.7L331.6 384.7M295.0 384.7L295.0 390.3M331.6 384.7L331.6 386.4M270.6 382.3L313.3 382.3M270.6 382.3L270.6 390.3M313.3 382.3L313.3 384.7M188.2 344.6L291.9 344.6M188.2 344.6L188.2 383.0M291.9 344.6L291.9 382.3" stroke="#111" stroke-width="0.85" fill="none"/>
</svg></div>
<script>
(function(){
var P=["#5480ba", "#5a86be", "#618dc0", "#6893c4", "#6f9ac8", "#75a0cb", "#7ba7ce", "#83add2", "#89b4d6", "#90bad8", "#96c0dc", "#9dc6df", "#a4cbe2", "#abcfe4", "#b2d4e7", "#b9d8e9", "#c0ddec", "#c7e2ee", "#cde6f1", "#d5ebf3", "#dbeff6", "#e2f4f9", "#e5f5f4", "#e8f6ee", "#ebf7ea", "#eef9e4", "#f0f9e0", "#f3fada", "#f6fbd6", "#f9fcd1", "#fbfdcb", "#fefec7", "#fffec2", "#fffbbe", "#fff9ba", "#fff6b5", "#fff3b2", "#fef0ad", "#feeea9", "#feeba5", "#fee8a1", "#fee59d", "#fee299", "#fedb94", "#fed490", "#fdcc8a", "#fdc586", "#fdbe81", "#fdb77c", "#fdb077", "#fca972", "#fca16e", "#fc9a69", "#fa9264", "#f88a60", "#f4825b", "#f17a57", "#ee7153", "#eb694e", "#e7614a", "#e45945", "#e15141", "#de493d", "#da4138"];
var D="QTVOQRUXSURVTQU/ZVVX//////XX+Z+XYTSTRVVUWTTUUUZWY/ZSVSSQPLQTXYQPNKRYVXVSgc8cgcacbc764bdcdegba554000346a987639b6888594a9a58520021576032224658a688cOPQLQOTURSRVUUT/YSSY//////VX/Z/YWSTUPVTTTVVSUPWUZZZRUPRRMMPRYZNKMMR+TUUPfa99efdecda54ccccagbb623000239855550785544477a7c687610134583674052598798aRPRPSRQSPONNPPR/ZTTTZZ///+WW+YZ+YYRTQSUTTTSUSQRSV+TUWRTPMOPOSVSTSQUYWWVVhgbeaa79c9a659da758763000206786614406745705a88877874406699a68cb5445474688RTTQTRUTPPPPRTRZWTVZYW+/+YWX/YZZZXRUPTTUXUWVTNSUWYUSURSOQQONTRPUSTY+XXUTghcfcc8aebb557998375602021165a7a44439767766c8c8789b56488cbbaace7767788a9bQSRRPORRLQOSTQR+YTSRXVY++XRSWWVXXWSTQTSUSVRQPLRRURTRROPNOOPPQOOQQQRWTVTSfeaaba878798a7ba4366a02000156647334055213129765a4657724276888a84254565435QRQQQPRQOQPPPQRXWRSTWYZ/XXTUXVXWUWSRRRTSTTRRSPRNTTSSTPQONNNRSSOPOQTXTTVSfg9a9f9b96665887539792000005566621208842413867885765313276865772244666668LLLLMLMOOLLMILLSRMOQRSRTTTPOTRSRQPMNLMLONONLOMOPQPPNPNMKJJKJMPLMIKNRPQPNff7bab8a98754986645442100002045503407663323766495550001376754754432555658OOQKLLLMLNMLPOPWRPOOTSUSVTQRUSTRRRNKKMLOPNNPLLOPOSPPNKNMKIKLQONMLLOSQOPNee9ac988bc5267a985a551100006469724207422743a68677a64001256735663443758967SQSPPOPNNNMOPSPYSPOPUWVZWWSTTWVUTSOPNNORRQRPPLNPQRQSRONLNMMOQQSSRRRSRURRlkgmjfceihgcbghicefgd9989a9deeidbdb6de85dbfjggddedgda8a9cdfceecbdfdgfeccgTTUPONOOMOOQQTSYXRSUWXXZVXSSWVWYVWQQNOPPSRPOQLPTOSSPTLPPOLMOTRRRPOQQRQPOigghkeeeigdcehkkgfhghb78a88eddhccba6cb87eafigjehgfgf78aabcbdfdd9cccggeffdMMMMNLKMNLKOPPNUOKLNRRUVUVOPUQRSQSQLOQLMQQMNNKMOLNLMMKJNKJMMQMONNOSMOONLlgghhfdfhfeeddegbbcce9897a8cc9dba7b4b776d9diggdecddfcaa8abbfgfd8ccbddcecfKMNLKIKLILKLMNOVQNNNOQTVTSQQRQRRTTMOKMKLQOPNMIJMMPMNMKKJJKIKOJJKJOPRRRMMiiffhebdhfeecccd98c9c7548559cdeb67747a97b7affecfchfcc8a9dddfhigcba9bdcd9cJMLLJIKLJNNNMNNXRMLLPPUVTSQNQQRRRRLMLNLLQNNMMJNNPQOLLKKIJJINOMKIIMLRPNPMkecfhedeihfccdffdcefg8877559bbea89a5ca97b8ccdcdbabea9687bacbedc9999ada9acMILKKKNPLKNPNMQVRKNOUUUWXTOQTSSRQQMNLPMMQPPOPMNNRTQLLLNLGJJMROKHIHNRQOOMhgdeigdglgc8aedgfcgce6795558bedcab85aeaba7cfcgdfbcdb8699bcaaecb7cabccbcdfIIIGIIKLJJJKNKNUMGLOPQTSUQMNQQPOLNLKHJIJKLLJKHLILNMKIHHJGHFIPMIIFIJNKLKJgeacceacfc989bcfbde9b72412048bda5652782688acbb99bca8636469979c95778bb99adGIGHJJJJKKMMMKMOLKMORRXVRSONRQSNPOKKLLJKKJHJJMOJNQNGJGHFFGGJPKBDADFIFGHHdc67ddbecfaa8fgjgcidc8520105bd8646306747867a7bedbee965845767a8b05547abbbbHKKKMKMNNOOSQQQUQNQRYY+++XUSVUUWRTPPOQNLPNQMONRNQSQKMLJHJHJOQPHJFFILKKKMdb5cdeafafeaaefiighdd86310279a8a46538848a86a9bdebgfa67526866abc29679adc9cJJKKMMLMKOMPNNOUOLQSVY/ZXVRRVUUUUSQPNONNONPKMOPOQRPMNMKJJKJNNNLJFGJKKIMNcc68aca9bfcbabfhfgecd4100007cb784320683265799abc8gdc7582557799a256697a899LNLMNLNKJLMOMMORQMTPVZZVVVSPUTUURPPQNOQMPMMLOMQMPQPLNNLLKJHOPQJIFHLMKKMMgd5acb8a7c974abddcaca4300006677836105613855a688caaa9403146544661665798a89IKKLPPPPPNMKLLMNMIKNQTSVTSRTWTPOOPOONNNOOLMKMMOLJMILMNKPNLLLRPRRONONMLNNfjada9799b866ab9978771420007597632417524775b7b7868627334699667a5647a88dabKIJKQPRQNNLKLKLKLIOOPRQSRURRSRMPOQNPMOLNPOOPOLOMGNHKNLMOILNLQMMNMPPPOMMPjidb8abcc984778566646231100348563133976855389a877ab456689da969c7637789abaLPNNQOPQPOKMJPNLOOQSRVSUSRQRVSOOQSOSNOSRQSRORLONKOKNQOPPMKMOSPTRRQUTRSOOioddagaea7a7587666966331421769695756ad88768ba9988885733a8ad989b9968aaaebbMOMNMNSTPOQPMPPQSOQRRSSRTSOQTTPNNSQQPPRSWQSRQNPPNNNMQMOPPNOQRRMOPNTYUSSPhjbbdifib6a9898a67b7a374222777885786bc77857b8dbb999794686ac86ac7888beaccbNNOMMNRQSONQMMMQTQQSUVPSRROPTRQROPQQLQQSTRPQQORPOQNLNONNMLNNOQKNIKRUQSOOeh9cdffe77c8798b89b695651215569a5775cb967649699ba8556268aaa66896665999bbayxvwwAAABAACzzzwByAyCBxByxxyzyzxtuxzAAzzAyzzyAAAyzzyzyBBxxBACExxwuwAzyzxmofjmooqijiihklklllkkhlhecehfhglgfhhmkjhkhihiikkgffdecdgihiefdggihjmjjmkmAzzvxvAAzxyyzzxzyvwyByAAxxyzxxyvxxxxwxywwxyzywxyBAzzAzzyzwzzADBzzwxyyzvylmknniijikhffnkihijihffdeegiggklgiidiifgjihkljijihgggdfghihfjihfkhilijkjjAzBAxyxwwyxvyzxzBzwxAzBBCyyzBAyBBzyyzyyxxwyxxzzzxAzzzBAyxyxAyyBAzzzxxvzAoomqmjhhjmlljllolkkkihhghjjmjjliggkgiiffkilljmjkjhkhjfghjjhjjjihljkkhijjkyBByyAyzyyxywxyyzwxwyAABEBzBCBCABByyuyAvxyyzwyzxzCBBxAAzzCyxAABBBzxyzyBBpoqrmliinnljjlnnklhimiihhjjjlkliihkghlifmiknimjjikihjhlhjjkkmkjilkjhmkkkkwxxvvwwvvsutuuwwxwxwtvwyxwyzyyxzzyvvyvvwwwvuwtwwyzxxvvxuwwwtwvxwyzxxwzvynnonjifgkkjgfgiihdfdfcbbgffhkhhjgfhdhheghffliiiigjjhjhikjllklmjkgghiigiigxxxxzzxxxwuuuvuvwvxxwwvvvtuuyuwyxzxxywwywvvzvwvwwwuwxyAyzxwtvuyBzAywyyyAnplmgjhjghghfhhgdchfgfedfgfighiffffbihgfefdihhihkhfegfghmkkiilkkdhjjhfjhgvxywzCuvutsrsuvqwwyyxzxxvtyzyywyzzuuvtxvwvxwuwwuvAwAyzzAwvvsxzBEBAwvywuytvwupopqqqpoornppploolnmrsrrqrqtqtsprtrtrtqutsrrutrqprqwvvuuswvyvsssqpusvBBBBzyvwwwvusvvvBCzAyvuuwuvvwvyAAAwxyuyAyvwxvuwvxuyAAAxzBzyvuyzDEAywAzxBxyvxpurqoosusrtrpopqqpqpuvuvuqsttrpqspssqquussurxrsststvvuwtuvuwvvvrsrqrrvvvyxvqtrttupqpszzyyywuuvtsvstxzzwuvxyxzuvtuvwuswvxyABxtwwutqqsxwyxuzvvBxzpqnvvtmjvvuussonkqptsnrrttuqnppnnsstutnjopnlurrtrttvvtsutvutxuvutooppnqBAAyzytsususuwwDEAAAxxBzAyyyzzBCEAvxyywzuwyxtuxxAAzzCAyvywwvvvxxyBBwyAzAwuxyuqqqutuuvuuwtspstqpqvxuvwvvtuustsuutsrvvvstuvxuwwuvtxvuvxAwwwuwsrrrrsDDCBCAywyyxxABxGFBBBzzBAEBABDADIFDxAzBAAzzAzAvwzFBDGEFAzyAzyzACCEFFCFDFFxuwyusrpvrttuvvtoqoruqrtvtuwvsuttutsstrsqrxyxtututtvwvyyuutxxyxxwwxssqqouEDBDBwzBAAzyyyAGDAywxyACACyBBADDEDACzCBACBABBwyzDDDEDBDzACACyBBDEFEFGHFFxwzvvrtsCtxvtvwsrqorustuvvwwvsturuvtvuustutwwwtqursruvxxwvvxyzvxvvuvssrsrECBCFDCDFBDBGCEzwAxvyyyBCEBBCBzxyDCFFCzCEDCCEAzAvvxyywxDECDEDzEEGFFDDBEBtvwxxtsvyxwxutrrsqttttvwxxvvxvvttttvutrpwxwxxxtrrtwuyxxvtuwxxxwutrtuwvuwsxyxBCBCDDBBCEDDBCzzzzyADABCDBDBzzADCBBDACEEFCwyBzCxzAABCzBDEEDCCDEFGFEGBqtpprrrrwqpmkomlkkpknmmnlkjlnoomlmnmqqnopmptuspkoomnqqqpooqrqruqqplponpnpyzyzDBEFCCBEEDFCCyyzBABEBDCBECyAADCFEDCBEFFEEwACzCBBCBzCABEzFDEECEFHDGGBoqpnrsstvoonnpojnmqnonnnlljnmoomonrnpqnpnkrsutnpmpomqnoopropspsqommpppqqqwyvxAyBDAAABAECBywxAzxBBBBzCACyzABABBzyzDADDDwzzzDwzzzyAxzBzCABBCDDCEECyprnoqrqquonlmmmhjlnlklmlkjlljnonklnnnnonnkorppmljponnmnompnpsqtnnlmnnnlmpCCCDFGGJFCEDFFIHDAEEHGIMJLIJKJGGGHGGCFFEHHGEGFGFDFDEDBCFDBEBKFGFCEGGGGGDlooqqolnusmmllmmmnnmnhmlmkknlonmlkmhmmljrnnoqpnlmnolmmmlnlonnpqlkkknmnnonGIGGJLILKIKJHGICFGIKMMJIJLJIMJHEEJHJJGJJKJIIHHIJDDDGGFGIHHGIKHKLKJKJHIHFqrorppqrponmnmmmnmpmmmmmlmlnlloonnooromnqroopqnmmmpmkmjqnoqlmmnpmonppsurrIJJJKIDIGEEDECCGJIFIHKIJLJGGKGKLJKIIHKKHGFECGEGGFFGJLKJJIIFHEHMKMMJGGIJLpljkeidgdbgfdihgbcbbe8c9fccggbdd9acbdfd8b9dgddccceccgedcffefgheegfhdbeccdFFFGJJHFBBAAAAACGBHHIJGJIHHHIJGIGGBGEEFJGDECDDHFEGEJIGJHGEECGILJJHFGIHEJnnekdgbddcdabdecb9a99865a96edd8b99b7ee9ba9ceeb9cdcb9daachfgffehfeedcbcdedzAACEEDHEEEGDFGFDCCFGHIHFIHFIHFDEGGEGECEEGHEGEFCBDBBDBCFCDDEFDECCDDEECBCileffifhgfhcdeehcfedg89a868bdgcdbc99dcaab9cggfefeggfdbaccgeffhgcbabeedgfdCFDEGDFEEGGFEFFFDDEDFFFGGHFFGIGEGHGHJGFFIJGHGEGECBDBCCADDEEFDzBCBFHGEFCDjjefjigihihfkffgebgffcc97a8dgfedbbabdccbddejegdffhhgfdfefhhfgiiecbdhfghgfDEDBCzDECDEEGJHICCCDEBFGFHEFHHFDEHGBDACCGGFEECCEACzAyxzCCDEBECDABEFEECAAhihhhebdkjiecegdabfcd888978afdeba8a6c987gbehghdfefgddbdcdfgdgih9abcegggfdGGHDEDEFEFDGHGGIEFCEIGHHJHEHHFHFGHEECEEEFDDFGDEFECFDDzDFBFFFGIHGFDGEFCFBlgfkkjggjgeddeggffgfgababaaedfgdadd9dd77dddhffdfcdeccacabdebecb8ddcfgghegIJJGCADECFDFGEFFGEzDFEFFFGDHHEFHGGEGFCCCFFDBEBCEEBBGDEEDFGCGHCIGKFFEFFHGmkgkmieehejffiehabceg9b9b9cefbffa9c3cb65edflifbfdedddabadfddhheaehieceddfIHGGDECDBDDDHDCIFDBCEEEEGHEEGEEEFHDEEDBBDFCCCACBzCCFFEBEHEEGECIGKGIDFDGHnlimigcehghfeeffac9heac8cd9hdbfbaaa8fc85dchihgeadddcdcdabeecgfhcdfgfcddccHGIFCBCDDCzBECBFDFAzCCDEFHEEGEDDDFEECBEDDDDCCxCECzAFDEBFFGDFFDHHKFEEDFEDllglhddcgcebdehgaabed8a9c9agdbed8bb7cb74ceeihe9baabeebc8cdbcfec9bedddcfaeHHHEBAAzBDyAECCHGEDCFDFEIJECEEGIGBEBAECAACCCBAEDGDEFEDCCCDCDDDHEEDDCCCEFmgfhhfdbffgcdeijcdcdd878a9afcccc99769b74ccdedebdccbbc9b7bafadfc6cebcbbbbbKHHHEFCDBDDDHEEKIGFDGGJKIKHFIJILKIEEFFDFFEECBECFEFFFCEECEFDECDFHGFHEHFFHmlhlhfbehhhgjhjkfefgiabbddcgifffdcc7ceb9ecfihifheihigficfgegjkhedfgeeefgcGHFDABCDCEDCHGENHFFBDGHHLJDEHIGIHEECCFDEGFFCCEDEHGECDCBCDDGFEDECBCDFFFFDlgijjdfbhjhgdfijeegffeacbcafgfgdbbc7aca6feefegcgeffeeaddcbfechfbdcdcegedbFEHEGFJGGJGFIKKFEBIGHJLKMLILNMIGHMIJFGFDGGHHGFGGDFCECCCHEEEFJFGGGGIHECEBhkjjjhchkofheggjggihhddac9cgegigfeebddabjjhjiifiegkfgcfeehggjjicddehjjjjhDHGEGHHGFDFFGKFJGFHFHKLOLLKJLJIHIHFGFEEDJFIFGEGHGGEHFCDEEFDEHIIGFFFFGFFFjhjklhehlkgfgjhhgghghaaaddadfijgeedcedbahiekkjeggggfeddgghfhhkjcdffhhihhgEFEGHGCDBAzzxABFKGKJJJJIHDFEIIFKMJDEDGHIDDECCDEDHIGINJJEBDAyAGDGGHDGHHFIuyrrnnnnmmqpoqqqnolnmmnknopqqpnqoppoqprsolonoosqqsooopsuvrttqvrvrqumnnmnoBBAAsuprrvtsqqozBBuvtssqwsstopxBAysusxtwwvrvtvtuzrxxAAwtyyvumpuuxxxwyyvABEDFzAByuvGJHBDFxBuDCDBBEJGGGAABCDCCABEDBABACwDCDEzFFIJFCEEFEHAHEGFyyzvyzptrrmjiegmmjijiotrnjkfffkiiiggkmonkkmnmninljjmmlqmmoqqrnqppncgilrronppprEFGEzACAwvHFIDEDAAvBEEDCIIFGHDABFDCEDDEDzADBAwDCBDCGGIIEGEFIEHGGEGJzzyxyApsqpljgfhjhjijinrtljhdeehhhgeglnqmmjinonlmijhlkloimmnoolppmldgjkoplmmplsFDDByADvwuGHHDBCyysBBCBDJIFFEBBCDCzABCFAzABzzxDCBByCFGHGFFDIDHCGDDGxyywwwvtuqollillnkqmmnkofdfdfeikgjfilmjmllljliljijiihlkgkompmorsppiksuxuqjmmooDCEHByAuCzFFEDCAyzvzDBEIHJJJGyCABCCAxBzvBAFEHDxzCzBFFGGDzyBBJECFCFIAAAzzztttsmplmppolmjjiknhhfgadlihgddiijgmnkmnnmkkjlnkmlgjomppqurrqjmqotpoloompDDFFCzzyxwFFGDCAyAwEEEGMIJKIDzADBDECEACwDDEBCAzyzwwBDEFBBAzyAywDBCEAACBBBrsqonqpnqmolnkkgkmiligccgkijfjiijlmllkmpkllolpmmijkoopqprrqqmqsqtrnkmnnpBEFECBDzBAzDBzAxAByCCCFGHGFGBzEBEBEFEBDBDHCACzBAAyyCCCADABCyzAyEECCFCACCAqqppnoqornmmllmiknllhkgihkmljjikkiklompolllmnpmmmkmpoopqsppporvrspplnpnpAABCyyxxvuxxwwwvwzuwxxAyzBCzwwyzzAyAxwxwzAxwxxwvwstuxzwAxxyvvwvzyBzywxzAAlmmoooonqonnminkgjjiiijkllmnjnikkloponnkknlmnnmllkmpmqnqppnqnlrpqqnkmjnpzzxAywyAyxyABxzwxzwwAyABAABzAAwxywyzzyxwyzAyxzwwuwwzBCCxzxxAyxzzywxxAAyxxtuuwxwuwvvuvvwwusxwwwtvvxvwyxwxuxxxwvwtwvwvuvxtutrsvuuwuvtutwuuywwxutssvwxyvwvwvwwwyyyxwwuuyyyxxzwxzAyvwwvuxwwzywzwyyxyzxyCzBzzxyxxBzxAxwxxxwwxyuwvuvuustusvquvyutruuspvvwwuwwuvuwyuxutrstssutqrtstrvsssvuvsstsvvwwvsutttvvwvytttxCuwwuvvvvwuwwvuuyywzxxvwvuvuruvwxyyyyvzwxABxxwywvxAzCAxwwxxxxxxvuxwttsprprrstttyuwuttsuvxtstvsyxyuqruttssttvrtsswxvxvutssurrrtrqrsrvxwuwwvAwvsuryxuwwvwwxwvwvvttwxwxwwxuwwuvswvuuvuwtwxyvuvwwvxwvyuyzxwyvxwuvutuvwuvvutrqrtrstvszvwvtstuuvvwutuwxzvsrtstsststssqvxzxvwvvrtururuqqvutsvvuvvvxxxstsxzwwuwyxwuwvvwvwyxxwxwywwxwttuuwuuvxwwwwxxwvvvxxzyxzyCyAwwyuuuvuwwuwvrsrrqvuttuwAytvtywvuxvuvwvvywtusrustssstsutvxBywvvwssrrtwussupostrsuxtxxxuttvxwwvzAAyAAxwvtuvxxxzwzvvvxvtuuvwwxuvuyzxyyysutstuuuxwttuxxusuuswtuuxtuvuvuxxuwuyxvwvzzywyvvvvvzAwuvuxxxwutwvvyywAzBvAxxuuwvwvwtrspruuwwwzwwtyyyyuvxyBzzzBBAzzyzwuyxxzxywAyvzAzzyvuxuvuxAxxvyxwxtxuvxwtsuAyxwxvxwyuxyxyxwyyzyBxxvvxwwxzAzyxxvwwvzuwwyBywzvuvvwxwyAvvxxvvvyyuvxwxwxwvwttuxuywvxyzAyxzAxxAzzAAAAzCzBwBxyzyzyxzzywxyyAAzuAyzyyyABzAxwvywxztyvyxywyzAyzxywxwxyyxyzyxwyzywAyzzzCyCyyAyzxvvyxvzyxwuzwyAAyyAAyyzzzxzxzzzwwwwvwvyyxzwxyzzCDxAzByzADCDEyxCCzAAAyyzzzCByCCBBBAzAwzyxAzzzyxzzzAxyxxuwzAAyzyyAACuwywvuwxwwwvvwwyxzyyzvxyxwwvwwxwxuxutuvyywyxvutwvywvvxwwvvwuwwvwwxxAzxyrxxyvCxyzAyxvxxyvzyBxAzyxyywvwAAAzzAzAzAzzxyAyzzAyzzwuuyzyyyyyByAxxxzyzzxBuwytxxxuywvywywyuuuvxwxywtvwxxxvvsxvwvvuwuxwyvvxxywvvwvuuvvxzAwvtuvvxxwwuuvxzwAyAzwvvwzwxyyAyzzzxwwvwwAyywzzywyzvxwyAzxxxzywvvywxvuxwuuvywyyzxyxAvutrttxwAyvxxyzxwtwxxxxwvwvvvwvtusxuuwwuwxxwxuwxzxyuvsvyvswyAztuttuxxvytuttwCBBzCAxuxxzxBAAyyzwyuvvutxyzxzyzzzxyxxzAxAxywxwywsvvtuusvruuxwvxzyAxBpqpstuyxyyxxyyyzsrtrusxAywwwxvvuruuvuvutwwtwuuuvxwzuutvuvswwywqrrruvttxwuuvxAzyyCAzxwzyxAACxyByAwxwvyBxyxvyyyzyzyyxxyzxxtzzvxyAvuvuyzyxuuwuvwxwww420467dddddbgdd412515372445848431188b772589bcb68cee8799a7999fd77564878a6IFLLSNSSYVMPORQQXYXSTWY+TTUOQTTRVVXZVUTZTTXOPWROOSQRUVTSPOOPQQPPRSQQRTQPS200379acccaeb9aa55a6769765ab47944078b8553579bfa8cfh87aa6376acf2100033476IEKGQQSSUULOQTUV//ZVS+UXSUQLRVRRYWWZVWY/RVQJPSTSTSQQQRSQPNMNPKNNSOOORRQOR636778789bccb899768665944567339a71969a7334569c88edg89cc99a9a99312323447aLKKLOPSPORSSRWVWXYUVUZWWVWVRVURRUWTYSTUXOSSNPSTSQTTUVUWROONRUPNPTUSMMPMNPa97467666436698889972121006633558534657656887867fcd88ad47593574676268a77JLRPOKMLRROQPOMNQRQQOTTXUXWRSTRUVVWYTTZYSVQMPPURSRRPRUVXWTQYSURYTTSOPPPNQa8966786777589aa7ba9312241863367a564578938ab8c79fcda7ba888752848677aab98ILTQONRLRTQRRQORRPQTQVSXWXWSVTUVWVXXTVXZUTRPROVSTRRRUVXXXUUVSTSVSTURPRPQR6988466246678c888acb3462416726748563655867aa6b69fbgb8bb577544a2543688764GHQLNKMLRQPPQPORRTSSRVSUUWWQTTTSUVVWQSXZSURNSOTUVRUTSTSWWSSTRRQTSPSQPQOPObaabbab9aa9dcgb54ccc5540238947434a9ad7aa99bdcfaaa688697addca787aaba56745GLQMONRSQPQTUNOOSVUSRWTVXXYSTWUUZXUYSQY+TXSSTRWUWWWYVYVXSXUYRTVZTUTUUVRVQhdggdcbbadcdaff79fgg887235ad6a85addad9adceefbebe97ac8c9ffedba9bdfee5ab88HNUNPOTRORTXWQRRTVUXT+X+//+VWRXW+YX/TUZ/WZWUXUWVYXXZUYVZYWVZSVX/XY+WWYWWTdabebbccedgiifg87da98451358a66777bfccca9aadddd9eb8b98daffceibbdcfgd698b9JKNLTPVURPTUWUPSVVSWUYXWY/VUVUTUYVV+WSXYTVZXYUUTUXXZVZWVRTUTUUUX+/XXVVSUTcaadadababdefee76baa657355ba575597daca998888dc8c77aaaa8ccddc8abcec91657aIKPPNOUQOSVWVSRSVXTWUYXZY++UWVUTXUUYTRUVVWXRTTTUVWYZXYVRQQRSSSTSW+WUQUTTScaabeb9bccbac992384411000479663356cac9a67689ab9951698abddedc74bade9466abMMRPOMQOOSUUTQPOPROSQXXY+//XVTTUWUWZSTUVTWURUQRQRURZY/+WRRSWVVVVVTUQPTQSOaa9cab8aa9cacba3074420011586343349cad7a98699aa78738b8a9ceedb76acecc3878bMLQOOOQNRSUTVRPOSSOSTWZZ+/+VXVSSVTVXRQVUUXXSUQPNPSTVZ/YUUTRYVTTUTTVSQTORQa88a9cdcbbccabd32753001014850330369a889877a999899467488bdbec698cbb976668ILQMQORPSSTTTPQOTPQSTZY++/WVVTRSWUUYSRUUVXVPTSQPNRRSYZXVTRRVUPSTQUTRQUQRNbb9bbbcbdacafcb1058410000467353116a8c678879b9b995366496bcecc9698b9835684HKONPOROQSRTSOQPPSQTRYX/ZXYWTUSRWVWYQRRSVZURRSQPQRSWWYWURTQVORQVQTQRTVRVPd99a475789a9a98aab632100214301876385878845686c79e8d99ca7aeb9382355678999KISNRMSNPTTVUQRQSUOTTYZ/Z+/TUSSSVUVXSRXTUURMPNROPQMTWZXUVRPSTRMSRSSOMROPOcbb96676bccdb889ae865330212501777476b9aa48788b7ce9f99cd9dccc48546847987aLIONPNSQPRUYWSTRUUUVV+YXX/ZUYUQSWYUZUTXSSSQOPNTUSSQVUXWUTQPQRROPPUSPORLNQb89a7a87a7a877957a998642214712576377688766687e89dbdaaeb9aaa93a688534678aMMPNMORPMOQTSRQSUTSRTWVVWZXSUTRSYVVYRRWYRTQNOMTSSRRTRSUTUSRTPPNUUVSQROPQSeca76653746479987ada1030104345587651436866968a58cbd78c889992478668558975HKTOMIJJQSPRRPOQRQPPPSRVWWXQRSURUWVUPNWVTVROORQSRRSQRUTWURRTSTSXRRQQOQSOPdbb895688667edba6dba34210176545677638687679b8b6ab9fb6bb9b995786999a6b956IJSNPKMLTSQQQQPOSRQSRWRYXYXSRSXSXTWXRRVYTXUQUQUTTTSTSUUXURTUTUTZSRUSSTRSPturqpnroqsorsrqupqqpqpsqqpqrorpuqnnpqstqmqooqrnptruvursrqorrsursronpqorqwvABCwxwBBxwABADBCCAAyzCBBAByzCzCBCAxAzxAzAyzzyyxxwxxzxvxAwwyywwBzzxyyyxAsrrooqpprpqqsqqtpppqrqsrqrrqqpstsopltorqnlpmprposstrqsqpqqqsrtopqlnkpnopxuyAAwxuzByyAABDBBBAAAyAABBzAwCxzDzwywwwACzzxAxzxxywvyywwyvvyuuwyAwxyCwyBoqpnonomqoqsurrurnnmnorqrrrqpptsqpqnttnpmnpoopoqtrtrnpopoqqrspplqnnmpooowtzBzxwyACBzBADCCBACBzCzzAyyBzAwxAxyyyxwxzBzzBxzxzCCAyBwvxtAAyxwyywvwxvvvnompppmkmlojonknkmjijllpoopqopnoponprsooklmmojklomppprpopslpnkrprpnimmoszyxzuutuxyxwyyAzyztuxvxvCBAyCyvuuwxtvwuuyvzxxvxvuAyyAECwvuwAAAAAxwytswtstssqusvqprqqqqqoqroolnostrstrsstutrqrturqmoprqqpqrpsvswtustrssquttvppqpuvCBDCBxwxBACEDEDBCAxzzzBCGFHFEBzzABAByyxxzBCBEAzyyDBDDIHABzABFECzCDDxwAyzzqqnrssurtrtttstsoorssutuuuutsvssrrttutrroqrrsturutststtsqrqsxwsqonnmnmorztyzzxAABFBBACDDHHDDDDzBABBzDEAzCBBAAzBEAzCABDBEACDABAzxyzzAAzABADBBABAzDrqqosturttttvtrtsotqtwwwuvuwvvssqsurtvrpqpsrtssstsurtsstsrsswttqqqnlnorqzvzyBBzACDzAyCBEDIGDBCCDACCACDABBDBBAAyDBCBAADABBCFCABAzzyxzyyzyBBzABCACBooqpqqppopppsuttnrurrpvsqptstsrsstrqrqpropqtpsqpqrrrpnqqmrqnspprpopnppnoACJEHAEEMMEHHGGGJMJIHKGMKLLIIKLHMLKIGGJKMPLJKIILJLNMIJJKJJJIKJKJJHJIJMKJIppppqqspqporuywuoosronvqoqqsrqppqrrqsqpqrttrrposssrpnonppmnprtnpqsssrsomAzGELEIHOIDFIDDGJFKIJGGLJIIEJJNJKJLLJIKNKINLLLIJLKKLHIGKIIHKKMLMJGIMMIKHIuwvspqstrrpqrvuqtssrqomlnoopmpnnpprorrsvuuttspnusurtrrtssrqqrwvwyvxvtwupDGKHLHKGLGEEHFCCFGHGHJMMLNKJGGOJMJNPKKLOLINJLJJIIGHHFJFMLJJIHHFNKKMMMKHLKutsoqorqsnqnqspruttsqmlnlklnknqopmnlrpuspsstqqpsttttqrtqoqrpqwrssssxwyvrEFIGIGHEGEDDFECDGGFGFJJLKJJHEFLJNMNLIKMMIGIHIGGHHDBDEDHLMIKHGEFKIJJJIFGILnmnijjmmlhiknllnmnmkifeeddehffgghhgglnqqlmmlkjjlqqpnlmomljokkoknllkppomlCFIHKHIHIGDDDEEDGEGGFHLKIKJHDEMILLLNJLNLJEIGHHIGGEEEEEFLMLLFFGELLKIIIEGIMnmkfkilmljknoknmliljkfhgfeggegjffdghlopmhkknkiiloqsnknnjkknlmqjnkiikmmokDBEGKGHHKFDDGGHGJJJIIKLKJKKEFGKFLIONJKKKHGIHJJHHGFDFFHFGJGHFGCAIKJGHGECFLmmmiihkkllkmmlklljhhihgfffggdfkghghglpqniikjkjikplpojonlknlmmnhjkhgjnnlkDDEIJFHFLGFGIHFIJIIKFMKNJNJIDGKGHKMNHJIKHIIFIFHFEDEFFEIIHFBDGDAGHIGGFEGFIklmmkkmmnkppmlimonjjkkhghihhffjhifkjpptolmlimlkksnqnoppnnkpokojhjkknloolHHKILNPNLHNMOOLLNQNQPSUQQRQNMLNNPRRURQRRMMLLLKMIMIJKNNNPOJKKKIGKOPOMNKJLNkklnnmolnmkjjllejlmkmkjgiimhjkikkilmqprqjlijmpljlnmjnnnmonmmmoolkjkhhjjlHGJMJJNNHLKLMKKLPQMMKTRRRSRNKMLNQQRTMPRPORLJLMOLMNJLNQONOKPJKHKNOONNLMMOMlljlnmlonlojjilhimnmljhgfgjkfijfhkikmrqrjjllkonkmkmlmjnknmmiklikjkkjkmjlGIMJIKLMIOLMKIKJNLLMLPPSQSSNMNOMQQOUOPSTOPKINLPLONNPMONQQPONKMLQOLMNMOOPNcbefffhgfhhjhiheeikieeffefggefgfiggjlmppghhijljfjhgefhifgjkefcacbdfeefdeEJKGIJMIJNLPRMLMRNNNMPQORSNNPPMPQNMQMORSOQMIKKNQOPRORSSPOMMQLOPRJLMMLQMNKededddfdegffhjiebfgfa9ffcfhfceedfdgcmlgkeegefghehigcdccfbddccebcaacbddb9AFKIGEGEMQKKLJIKPMOLMOMONPOMNPOMOPMNKJLMNRNLMKKLLNPNOPMNNMLNLOONJJKIJNMMIfeefeffeghigjlkjcffgbaefeehgdehehdhdlnkkeghiejfjjgigcefggfhhifceeedcgegcCDMJKEKINNKLMLKLPONOKQNPORPJNPPNOOOOLIPPNOMLNMOKLNPOMPPPMKKNOOMMNLLKLKJLMhfgjhifdefifijigdfhgdbfddejigghhhjggjliifefhfhefigijggfffifdffgjjigaeefhFFNKJEHGOMJNLLMLOMKJKNORQSRLROPMONNPKNNNNQQMNMLLNORQPSSNOPNPQQTPONMHKNKLLieiiiiedfgeegihgegfecchggfihgfhfiheejmhidegfehfggdigfihhiieeebgiggfaecegHINMGEGEJPKMNLONNPKLNOMQRUSQSQNLPOOOKKLONQMMONLOOOPRQUQOOLMQORPPMNLLJOKKIjhjhjigeefedfhfbdghe9cffgfiidgghhhefikjmdeegeiefefgigjjhhkedfflkjhfbeeeiGGPKHCGCNOILMKOKNNHKMLNRTSTPQNPLQNPQJKMMMSOKMMLJMMKOQRSONLLQNOOSNMNMKOMMKlikgegfeffedhiihdfggedhfdfggeehgggeahhiicdifcjfgihjhdggefffehggeccbcbdbcCFNLICFFMQIKMINMOOKLNOKQSQQNONPNOPNKIHHJOTMILMLKMMMNMNMMLLJLKMJIMKJJJLLLJkijgfgfghgjjkhjjefeeecfeddfidfffgdhdjkkhaegefgcikhjjffhhdhigkkjhhdfbdfgeCBIINGGFPPHLLLKNPRMPMOMRRPQLNLQKOPPLIIMKOOQKNOLJMNMNHNOLJJLILKHHNNKMLJKMNhgifbdgehghgkihhbddccadccccdccdebcebljjjbbdfdgdijikidgfdfgefhkiffdcbdcgeCAJNMEIFMMIHHKKMMNMLLMMQNOOLLKOJNNPMJJHJMNMLMNJILIHLIJIHHEIIKIFGMMJJJLIMKnmlhdffdheehkjkgffhfdecabeddacbddddafkkkfeeefheklhljghlijgiilnkikgddfhffHCKLNFHINLEGIIILMOMOMNMSNNNNKHPNPQPMKLJJNMOIMLIKKFHGHGHKJIGDHFCLNOMMLLLMMmmkfgigjkghilllfehighiddcdggfgdecedciikjcggihjgjkljjikjhgiijlpnlmfeddggeDDJJMGKINNCGGJKLPPPLLMOQOOPLIKTPSPQPJMKOOQQMMOKKMJFIHJHKLLIDHECINNMNONRPOommpqnmnppnlkjifjlijjigiifllijikikmlnoomijklmlkkjjlnqsrpoqoommtpprllmmnoFFFEBEGGDBHGHGFFCGCEFIIILLIJIGCGHIHJHHIHEFHCFFGEDCDFHKGHHCFGHEFIJJJFFDEGEhdhiggdfiffgedc8eebbb95769bb89bcbbfefehecccfeeacdccghgjigiigefkhjkfaeefgEEGIDGGHDBGEDEFEDDBDDHHJJJKHGDDFHGIIHHIIGFFHGEGDFFDEJMIIJEFGECGLJKFEGDDFFfefggfigjiifgff8beebb88758bd99899bfdefgddfgehgdffggffjkjiiihdhhghhfffgihDEDFEIIJECFGFHFDDDEBGJJKIKIGEFDIHJJLIIKLFEHECFDDEDDGJKIJJFHGGFFJGIFHHEEFHccedccfdhfiejffc8c97a5888beb9a9999eefdb9cddfecbedeggcgghefigghhfiddbfefeDBEGIDDEJGFFGGFCFFFFFHHLJHJFGGEFIEIIGGGFHGJGGHEEBDDFGIHHECCFIFEDGFDEFHFCEdccgffgghjggjifa5a79b888beeg9ba89eggjeecbfgfggdda9dfbdffgjhijfhhghf9bagdCBGHGCEEIIFHGEFEHHFIHHLLJLJIIIFFHIFIFFDFIKJEIJECDGGJLLJFCEFHIIGFFFEGGIGFFdddcgjfegefciff63ab6667a7cdgcf7a9bedeab88bbeed9b78aiaefjighbhfnjjgd6a9deCFIGEACCFHACDFECFEDCCDGJLKKKKIEEHFFHGCCDGJIIIJABEGGEKMKGFCEHGJJGGFEEFEFIEfhfhjkghhggceihc7bed788cbdihgeceehhhgdedfeigghdcaaefcggjjjhcgflmjkidegfhCHMIDCADILEFGDECHDCDEGIMOPMLKKHJJKKIHEKJKLJIMJIGLJMJNPLNOKKOLORRKIJJIJLJIghchhkkhjiifkhkc5bbc96cdcghhffdcedfhhfecdfigjidgbccgcgfigklhiekjiigdeehhDCJJIDIEMKGHIHDGIJHGHKKOOOPKJKHJIHKLGIFJJLNJJKIFFHGIMPMLJJFKJKKKHGFJHJIJIjkhhghjhihhhjiidafffcbcabceecdbecdiffdffcggigigjfhfighihijigjkkmkhgcefffDEHHHEDEIJFGIFFIJJHJHIKKLMLIIGKJJLKKGHHJLMJJIJGHHHIHHJIJHHGGGFDHKKJJIJIJKklljknmlokomlnmghiijkhgeehkkjhhifikkmkkhkkllmnklijjkilmjomlmmnpnolkhjiljDEGEHCHDEFDDEFDFIJHGFLKKJLHIFDIGJHILHHFJHJHGHFGEIFFJHHHHHEIEEDEJIHHIIGHLHnlnmpppnonononngilkmklkfhkmmkigieimmolljllmmnmlnijlpkmlnmmpopmonrokijikmEEGGHGJHHGEHGFHIIKHGILKMJNLJJEIIKJLKHJJJLLKHIIEFIGHIJJHIGFFGFEEILLGHFJLKInlnnppoopppnoonghkmiljhlgjmlmjigikmkomnklkmnnnmlimkmlnmponmnsqtrpnnhiikjAzCCCBEGCCAAACzCCEEEBEDGEFECzCEEFFFEDDDDCGFFEECBCzAABCADDCDyzxyEFFEFGBHGEomljplnooklklljejjlolljkijklkllkghkkllkijhhjlnlmknnoqnrnmnmnoqsrmmjhhhkjBBBFCzBBACACACDCGFCCACDEDEEECCCDBFFFBECGDFDABEBBDBBBBCCCDCCyyyzDFGBACCEFHkkkjlokknikikhigiiieggehhiljhhijjhjjkjjkgihkjnkikikllnnpnnmkjknnmkjijjknCBDFyAzDBCCABDCABBxABADBEHHGCCACDCDDDBDBCCzyByCzyAyAEGFECCBCDCAEACBAyCACzjjkghihgjhhfjgfffdddbcccdfgheeffgdhfiiifeegfeigijehkjjjhmjjhgjmkkjgfffggyzBByvwuyAzwxyAywyuwxzBABCCDAxyyxzyxxyyvyByxBvwvxywxBBBCzxywAzwzyxzwvyxyvjijiklihlhieihgfdgfgaceeggiheffgfefhhgifffghekifjgjljlmljjkghikmliheijijBxBBwvwvzCAAzyCzAywwyyzDBEBCAzzyyzAAAwzxzCAzzByxywwzBACBzxzAAzzBxyywxzAzzjkliiifffghgkghfgihhdbdcedgecddhjfggfggfeefheifiieigeijhkiiiffjgkggehfeixwzzyvwvwABCByzAyzvzzyyAACABAAAAyxwwxxxtAByvxxzyyAABBCAyxwyABAyywyzwzzwzwkiijhiifhijkkkjkgiecabhegggifegjhiiiihegjhhihhfjgdighggiikijgcggjiigfdghzxzyAwwtCzEFDzAAAAxAABAABCAAEAzyyzxxwywwAADzByABzDEFEDDzwyyEFDEyAzAxzyvxxmlknijjkjmnppolojmfeeahhikhigilkmlmnmnjijjjklkimlejkgkkjnnnnhgghkmmhlilkzvxDEAzzFEGIJEFDBzCGFEFFEEEDGGDBBBABzzBwBECBCAByBGGKIJIzBBAHIHFAyDDzBDuAykiirhjhhkmnnomkojkfee9edkkghdglkmjnlnmkjjkjkiljkkeihgkjhlppoicfellkjjjikzzAAAADzBAIIJDDBBAzFDHFGFFEFHEzBBzDCBBBzEBBBCBAAAFFIJJIyzzAHFGDAzBDzAAwwwmjkljjkljonnoklnkjfcebhhkkghfhlkjjlnpmjijkgiikjlkekikikjnnnogegejkhhiglnBvzCABCwCDJKHGIDDEAEGHFHHHGDHCyABBAzzzzwDEBzAzAyBEEIJJGzzwvGFDAzzEyAyzxxvgffkginmnusuoihkkmffffkhikgdeglheenqromkjklmomnnlemegjkjnnqshe799efkjhijAvtxCILGzBHLMFFFFFHHGNMKCCEAEExAzBDEDGFzzCwvyyEAxCAGIIIxAwyBDyyvyAzzyBxxxjgjlhjnnqrrrojjhimeehfdbhheebdifdbmpooolkiijmqmllekfiiokpotpghdacghkiiljBxuwzKKFvyIJGDDDDEFJGKMKCDCBCDvyACzGEDEByCwvvvCAwwxDGEEwxyxyxuvtyByyyzyxydcdijkonqqqrjljggjhfihfggghegfgbacjmpkklikkknnlkjijhklkljlpolifbcefkjfilAxtuBHIGAABABDDCDEFDBIIFxAzwyBwBCDCIDIFGyAxuvvCzxzyyzBAAywyyvvvuzBxyzzEByihfeehjilkknonnojhjjjjkghffhgiigfbihiihhjijmklknpqqggfjgfhiijnbbb9ckfigetsvwCzCACEyxzzzCGHIGCEADxwvxwBEBCCCBAABCBCzzAAADABzBuvwzxvyxyuvwxxwACAABBmimiiihggikijlkkjnnmjinihejjggjkmjjffhikgiklhljiomnkikkgklfihkhjkjjggighvBBzxxxyCByCCABCDByCBzxzCCBADBDBDBzzzCBECDDBAzEGFHFCzBBDBEBECFDDCCCzyBzAz";
var A="0123456789abcdefghijklmnopqrstuvwxyzABCDEFGHIJKLMNOPQRSTUVWXYZ+/";
var cv=document.getElementById('hm'),g=cv.getContext('2d');
var nc=145,nr=150,cw=2;
for(var r=0;r<nr;r++)for(var c=0;c<nc;c++){g.fillStyle=P[A.indexOf(D.charAt(r*nc+c))];g.fillRect(c*cw,r*cw,cw,cw);}
})();
</script>
</body></html>
